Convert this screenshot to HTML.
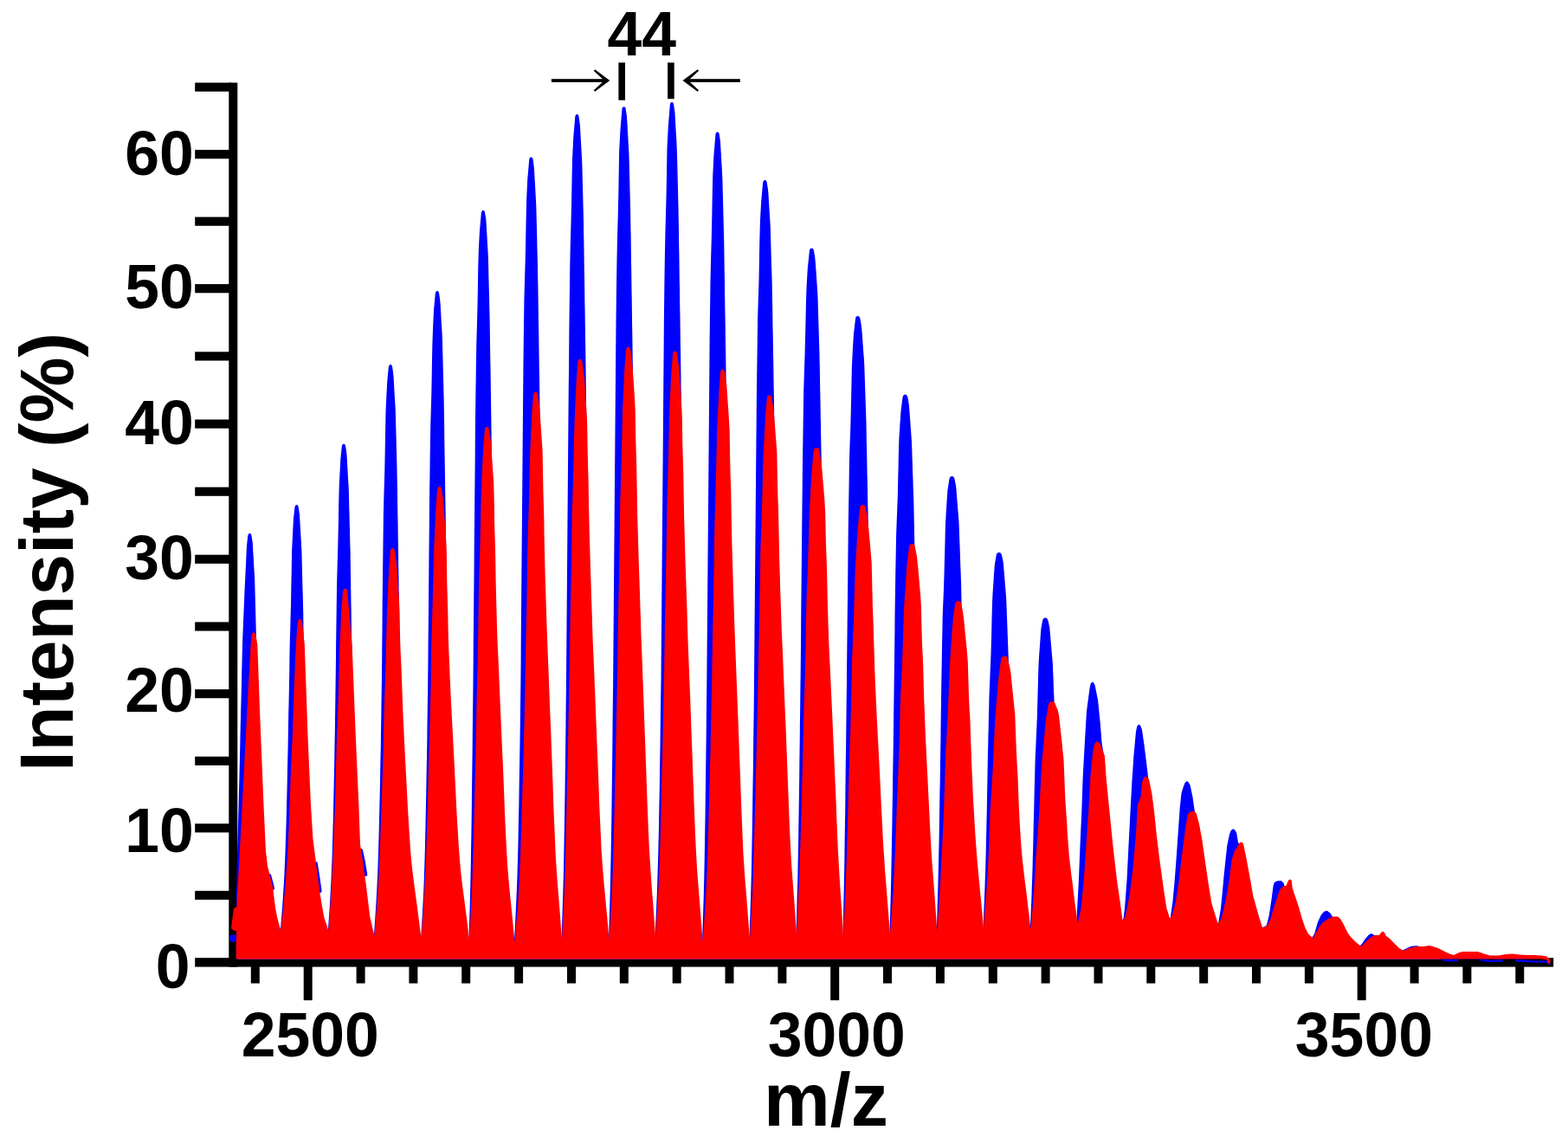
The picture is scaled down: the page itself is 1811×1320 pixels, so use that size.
<!DOCTYPE html>
<html lang="en">
<head>
<meta charset="utf-8">
<title>Mass spectrum</title>
<style>html,body{margin:0;padding:0;background:#fff}svg{display:block}</style>
</head>
<body>
<svg width="1811" height="1320" viewBox="0 0 1811 1320">
<rect width="1811" height="1320" fill="#fff"/>
<g fill="#000">
<rect x="264.3" y="95.5" width="10" height="1021.1"/>
<rect x="225.2" y="1106.2" width="1569.0" height="10.4"/>
<rect x="225.2" y="95.5" width="42" height="10.2"/>
<rect x="225.2" y="173.1" width="42" height="10.2"/>
<rect x="225.2" y="250.6" width="42" height="10.2"/>
<rect x="225.2" y="328.1" width="42" height="10.2"/>
<rect x="225.2" y="406.3" width="42" height="10.2"/>
<rect x="225.2" y="484.5" width="42" height="10.2"/>
<rect x="225.2" y="562.6" width="42" height="10.2"/>
<rect x="225.2" y="640.7" width="42" height="10.2"/>
<rect x="225.2" y="718.4" width="42" height="10.2"/>
<rect x="225.2" y="796.1" width="42" height="10.2"/>
<rect x="225.2" y="873.7" width="42" height="10.2"/>
<rect x="225.2" y="951.2" width="42" height="10.2"/>
<rect x="225.2" y="1028.8" width="42" height="10.2"/>
<rect x="289.8" y="1112" width="10" height="23.6"/>
<rect x="350.7" y="1112" width="10" height="43.2"/>
<rect x="411.6" y="1112" width="10" height="23.6"/>
<rect x="472.4" y="1112" width="10" height="23.6"/>
<rect x="533.2" y="1112" width="10" height="23.6"/>
<rect x="594.1" y="1112" width="10" height="23.6"/>
<rect x="655.0" y="1112" width="10" height="23.6"/>
<rect x="715.8" y="1112" width="10" height="23.6"/>
<rect x="776.7" y="1112" width="10" height="23.6"/>
<rect x="837.5" y="1112" width="10" height="23.6"/>
<rect x="898.4" y="1112" width="10" height="23.6"/>
<rect x="959.2" y="1112" width="10" height="43.2"/>
<rect x="1020.0" y="1112" width="10" height="23.6"/>
<rect x="1080.9" y="1112" width="10" height="23.6"/>
<rect x="1141.8" y="1112" width="10" height="23.6"/>
<rect x="1202.6" y="1112" width="10" height="23.6"/>
<rect x="1263.5" y="1112" width="10" height="23.6"/>
<rect x="1324.3" y="1112" width="10" height="23.6"/>
<rect x="1385.2" y="1112" width="10" height="23.6"/>
<rect x="1446.0" y="1112" width="10" height="23.6"/>
<rect x="1506.9" y="1112" width="10" height="23.6"/>
<rect x="1567.7" y="1112" width="10" height="43.2"/>
<rect x="1628.6" y="1112" width="10" height="23.6"/>
<rect x="1689.4" y="1112" width="10" height="23.6"/>
<rect x="1750.3" y="1112" width="10" height="23.6"/>
</g>
<path d="M272.7,1107.6 L272.7,1092.0 L272.7,1079.9 L272.7,1067.8 L272.7,1055.6 L272.8,1043.5 L273.0,1031.4 L273.3,1019.3 L273.5,1007.1 L273.7,995.0 L274.1,982.9 L274.4,970.8 L274.8,958.6 L275.1,946.5 L275.5,934.4 L275.8,922.3 L276.1,910.2 L276.4,898.0 L276.7,885.9 L277.0,873.8 L277.3,861.7 L277.5,849.5 L277.8,837.4 L278.1,825.3 L278.4,813.2 L278.7,801.0 L279.0,788.9 L279.2,776.8 L279.5,764.7 L279.8,752.6 L280.1,740.4 L280.6,728.3 L281.1,716.2 L281.6,704.1 L282.1,691.9 L282.6,679.8 L283.2,667.7 L283.8,655.6 L284.4,643.4 L284.9,631.3 L286.2,619.2 L286.6,617.4 L287.4,616.3 L288.4,616.0 L289.4,616.3 L290.2,617.4 L290.6,619.2 L291.2,623.0 L291.8,626.9 L292.0,630.7 L292.2,634.6 L292.4,638.4 L292.7,642.2 L292.9,646.1 L293.1,649.9 L293.3,653.7 L293.5,657.6 L293.8,661.4 L294.0,665.3 L294.2,669.1 L294.3,672.9 L294.4,676.8 L294.5,680.6 L294.6,684.5 L294.7,688.3 L294.8,692.1 L294.9,696.0 L295.0,699.8 L295.1,703.7 L295.2,707.5 L295.3,711.3 L295.4,715.2 L295.5,719.0 L295.6,722.8 L295.7,726.7 L295.8,730.5 L295.9,734.4 L296.0,738.2 L296.0,742.0 L296.1,745.9 L296.2,749.7 L296.2,753.6 L296.3,757.4 L296.3,761.2 L296.4,765.1 L296.4,768.9 L296.5,772.7 L296.6,776.6 L296.6,780.4 L296.7,784.3 L296.7,788.1 L296.8,791.9 L296.8,795.8 L296.9,799.6 L297.0,803.5 L297.0,807.3 L297.1,811.1 L297.1,815.0 L297.2,818.8 L297.3,822.6 L297.3,826.5 L297.4,830.3 L297.4,834.2 L297.5,838.0 L297.5,841.8 L297.6,845.7 L297.7,849.5 L297.7,853.4 L297.8,857.2 L297.8,861.0 L297.9,864.9 L297.9,868.7 L298.0,872.6 L298.1,876.4 L298.1,880.2 L298.2,884.1 L298.2,887.9 L298.3,891.7 L298.3,895.6 L298.4,899.4 L298.5,903.3 L298.5,907.1 L298.6,910.9 L298.6,914.8 L298.7,918.6 L298.7,922.5 L298.8,926.3 L298.8,930.1 L298.9,934.0 L298.9,937.8 L299.0,941.6 L299.0,945.5 L299.1,949.3 L299.1,953.2 L299.2,957.0 L299.2,960.8 L299.3,964.7 L299.3,968.5 L299.4,972.4 L299.4,976.2 L299.5,980.0 L299.5,983.9 L299.6,987.7 L299.6,991.5 L299.6,995.4 L299.7,999.2 L299.7,1003.1 L299.8,1006.9 L299.8,1010.7 L299.9,1014.6 L299.9,1018.4 L300.0,1022.3 L300.0,1026.1 L300.1,1029.9 L300.1,1033.8 L300.2,1037.6 L300.2,1041.5 L300.3,1045.3 L300.3,1049.1 L300.4,1053.0 L300.4,1056.8 L300.5,1060.6 L300.5,1064.5 L300.6,1068.3 L300.6,1072.2 L300.6,1076.0 L323.8,1076.0 L323.8,1076.0 L324.8,1063.4 L325.8,1050.9 L326.7,1038.3 L327.5,1025.8 L328.3,1013.2 L328.8,1000.6 L329.4,988.1 L329.8,975.5 L330.2,963.0 L330.6,950.4 L330.9,937.9 L331.2,925.3 L331.5,912.7 L331.8,900.2 L332.0,887.6 L332.3,875.1 L332.6,862.5 L332.8,849.9 L333.0,837.4 L333.2,824.8 L333.5,812.3 L333.8,799.7 L334.0,787.1 L334.3,774.6 L334.4,762.0 L334.6,749.5 L334.9,736.9 L335.3,724.3 L335.6,711.8 L336.0,699.2 L336.2,686.7 L336.4,674.1 L336.7,661.6 L336.9,649.0 L337.1,636.4 L337.7,623.9 L338.3,611.3 L339.0,598.8 L340.4,586.2 L340.8,584.4 L341.6,583.3 L342.6,583.0 L343.6,583.3 L344.4,584.4 L344.8,586.2 L345.4,590.3 L346.0,594.4 L346.2,598.5 L346.5,602.7 L346.7,606.8 L347.0,610.9 L347.2,615.0 L347.4,619.1 L347.7,623.2 L347.9,627.3 L348.1,631.4 L348.4,635.6 L348.5,639.7 L348.6,643.8 L348.7,647.9 L348.8,652.0 L348.9,656.1 L349.0,660.2 L349.1,664.3 L349.2,668.5 L349.3,672.6 L349.4,676.7 L349.5,680.8 L349.7,684.9 L349.8,689.0 L349.9,693.1 L350.0,697.2 L350.1,701.4 L350.2,705.5 L350.3,709.6 L350.3,713.7 L350.4,717.8 L350.4,721.9 L350.5,726.0 L350.6,730.1 L350.6,734.3 L350.7,738.4 L350.7,742.5 L350.8,746.6 L350.9,750.7 L350.9,754.8 L351.0,758.9 L351.1,763.0 L351.1,767.2 L351.2,771.3 L351.2,775.4 L351.3,779.5 L351.4,783.6 L351.4,787.7 L351.5,791.8 L351.5,795.9 L351.6,800.1 L351.7,804.2 L351.7,808.3 L351.8,812.4 L351.9,816.5 L351.9,820.6 L352.0,824.7 L352.0,828.8 L352.1,833.0 L352.2,837.1 L352.2,841.2 L352.3,845.3 L352.3,849.4 L352.4,853.5 L352.5,857.6 L352.5,861.7 L352.6,865.9 L352.7,870.0 L352.7,874.1 L352.8,878.2 L352.8,882.3 L352.9,886.4 L353.0,890.5 L353.0,894.6 L353.1,898.8 L353.1,902.9 L353.2,907.0 L353.2,911.1 L353.3,915.2 L353.3,919.3 L353.4,923.4 L353.4,927.5 L353.5,931.7 L353.5,935.8 L353.6,939.9 L353.6,944.0 L353.7,948.1 L353.7,952.2 L353.8,956.3 L353.8,960.4 L353.9,964.6 L353.9,968.7 L354.0,972.8 L354.0,976.9 L354.1,981.0 L354.1,985.1 L354.2,989.2 L354.2,993.3 L354.3,997.5 L354.3,1001.6 L354.4,1005.7 L354.4,1009.8 L354.5,1013.9 L354.5,1018.0 L354.6,1022.1 L354.6,1026.2 L354.7,1030.4 L354.7,1034.5 L354.8,1038.6 L354.8,1042.7 L354.9,1046.8 L354.9,1050.9 L355.0,1055.0 L355.0,1059.1 L355.1,1063.3 L355.2,1067.4 L355.2,1071.5 L355.3,1075.6 L378.8,1075.6 L378.8,1075.6 L379.8,1061.2 L380.8,1046.9 L381.6,1032.5 L382.4,1018.2 L383.0,1003.8 L383.6,989.5 L384.0,975.1 L384.4,960.8 L384.8,946.4 L385.1,932.1 L385.4,917.7 L385.7,903.4 L386.0,889.0 L386.3,874.6 L386.5,860.3 L386.8,845.9 L387.0,831.6 L387.2,817.2 L387.4,802.9 L387.6,788.5 L387.8,774.2 L388.0,759.8 L388.1,745.5 L388.3,731.1 L388.5,716.8 L388.7,702.4 L388.9,688.0 L389.1,673.7 L389.5,659.3 L389.9,645.0 L390.3,630.6 L390.6,616.3 L390.9,601.9 L391.1,587.6 L391.4,573.2 L391.8,558.9 L392.6,544.5 L393.3,530.2 L394.8,515.8 L395.2,514.0 L396.0,512.9 L397.0,512.6 L398.0,512.9 L398.8,514.0 L399.2,515.8 L399.9,520.6 L400.5,525.3 L400.8,530.1 L401.0,534.8 L401.3,539.6 L401.6,544.3 L401.8,549.1 L402.1,553.8 L402.4,558.6 L402.7,563.3 L402.9,568.1 L403.0,572.9 L403.1,577.6 L403.2,582.4 L403.3,587.1 L403.5,591.9 L403.6,596.6 L403.7,601.4 L403.8,606.1 L404.0,610.9 L404.1,615.6 L404.2,620.4 L404.3,625.2 L404.4,629.9 L404.6,634.7 L404.7,639.4 L404.7,644.2 L404.8,648.9 L404.9,653.7 L404.9,658.4 L405.0,663.2 L405.1,667.9 L405.2,672.7 L405.2,677.5 L405.3,682.2 L405.4,687.0 L405.4,691.7 L405.5,696.5 L405.6,701.2 L405.7,706.0 L405.7,710.7 L405.8,715.5 L405.9,720.2 L405.9,725.0 L406.0,729.8 L406.1,734.5 L406.2,739.3 L406.2,744.0 L406.3,748.8 L406.4,753.5 L406.4,758.3 L406.5,763.0 L406.6,767.8 L406.7,772.5 L406.7,777.3 L406.8,782.1 L406.9,786.8 L406.9,791.6 L407.0,796.3 L407.1,801.1 L407.2,805.8 L407.2,810.6 L407.3,815.3 L407.4,820.1 L407.4,824.9 L407.5,829.6 L407.5,834.4 L407.6,839.1 L407.6,843.9 L407.7,848.6 L407.8,853.4 L407.8,858.1 L407.9,862.9 L407.9,867.6 L408.0,872.4 L408.1,877.2 L408.1,881.9 L408.2,886.7 L408.2,891.4 L408.3,896.2 L408.4,900.9 L408.4,905.7 L408.5,910.4 L408.5,915.2 L408.6,919.9 L408.7,924.7 L408.7,929.5 L408.8,934.2 L408.8,939.0 L408.9,943.7 L408.9,948.5 L409.0,953.2 L409.1,958.0 L409.1,962.7 L409.2,967.5 L409.2,972.2 L409.3,977.0 L409.4,981.8 L409.4,986.5 L409.5,991.3 L409.5,996.0 L409.6,1000.8 L409.7,1005.5 L409.7,1010.3 L409.8,1015.0 L409.8,1019.8 L409.9,1024.5 L410.0,1029.3 L410.0,1034.1 L410.1,1038.8 L410.1,1043.6 L410.2,1048.3 L410.2,1053.1 L410.3,1057.8 L410.4,1062.6 L410.4,1067.3 L410.5,1072.1 L410.5,1076.8 L410.6,1081.6 L431.8,1081.6 L431.8,1081.6 L433.0,1064.7 L434.1,1047.9 L435.1,1031.0 L435.9,1014.2 L436.6,997.3 L437.1,980.5 L437.6,963.6 L438.0,946.7 L438.4,929.9 L438.8,913.0 L439.1,896.2 L439.4,879.3 L439.8,862.5 L440.0,845.6 L440.3,828.8 L440.5,811.9 L440.8,795.0 L441.0,778.2 L441.2,761.3 L441.3,744.5 L441.5,727.6 L441.6,710.8 L441.7,693.9 L441.9,677.0 L442.1,660.2 L442.3,643.3 L442.5,626.5 L442.7,609.6 L442.9,592.8 L443.3,575.9 L443.8,559.1 L444.3,542.2 L444.6,525.3 L444.9,508.5 L445.2,491.6 L445.5,474.8 L446.3,457.9 L447.2,441.1 L448.8,424.2 L449.2,422.4 L450.0,421.3 L451.0,421.0 L452.0,421.3 L452.8,422.4 L453.2,424.2 L454.0,429.8 L454.6,435.3 L454.9,440.9 L455.2,446.4 L455.5,452.0 L455.8,457.5 L456.2,463.1 L456.5,468.7 L456.8,474.2 L456.9,479.8 L457.1,485.3 L457.2,490.9 L457.4,496.5 L457.5,502.0 L457.7,507.6 L457.8,513.1 L457.9,518.7 L458.1,524.2 L458.2,529.8 L458.4,535.4 L458.5,540.9 L458.6,546.5 L458.7,552.0 L458.8,557.6 L458.9,563.1 L459.0,568.7 L459.1,574.3 L459.1,579.8 L459.2,585.4 L459.3,590.9 L459.4,596.5 L459.5,602.1 L459.6,607.6 L459.6,613.2 L459.7,618.7 L459.8,624.3 L459.9,629.8 L460.0,635.4 L460.1,641.0 L460.1,646.5 L460.2,652.1 L460.3,657.6 L460.4,663.2 L460.5,668.8 L460.6,674.3 L460.6,679.9 L460.7,685.4 L460.8,691.0 L460.9,696.5 L461.0,702.1 L461.1,707.7 L461.1,713.2 L461.2,718.8 L461.3,724.3 L461.4,729.9 L461.4,735.4 L461.5,741.0 L461.6,746.6 L461.6,752.1 L461.7,757.7 L461.8,763.2 L461.9,768.8 L461.9,774.4 L462.0,779.9 L462.1,785.5 L462.1,791.0 L462.2,796.6 L462.3,802.1 L462.3,807.7 L462.4,813.3 L462.5,818.8 L462.5,824.4 L462.6,829.9 L462.7,835.5 L462.8,841.0 L462.8,846.6 L462.9,852.2 L463.0,857.7 L463.0,863.3 L463.1,868.8 L463.2,874.4 L463.2,880.0 L463.3,885.5 L463.4,891.1 L463.4,896.6 L463.5,902.2 L463.6,907.7 L463.7,913.3 L463.7,918.9 L463.8,924.4 L463.9,930.0 L463.9,935.5 L464.0,941.1 L464.1,946.7 L464.1,952.2 L464.2,957.8 L464.3,963.3 L464.3,968.9 L464.4,974.4 L464.5,980.0 L464.5,985.6 L464.6,991.1 L464.7,996.7 L464.8,1002.2 L464.8,1007.8 L464.9,1013.3 L465.0,1018.9 L465.0,1024.5 L465.1,1030.0 L465.2,1035.6 L465.2,1041.1 L465.3,1046.7 L465.4,1052.3 L465.4,1057.8 L465.5,1063.4 L465.6,1068.9 L465.7,1074.5 L465.7,1080.0 L465.8,1085.6 L486.0,1085.6 L486.0,1085.6 L487.2,1066.5 L488.3,1047.3 L489.3,1028.2 L490.0,1009.0 L490.6,989.9 L491.1,970.8 L491.5,951.6 L491.9,932.5 L492.3,913.4 L492.6,894.2 L493.0,875.1 L493.3,855.9 L493.5,836.8 L493.8,817.7 L494.1,798.5 L494.3,779.4 L494.5,760.2 L494.6,741.1 L494.8,722.0 L495.0,702.8 L495.1,683.7 L495.3,664.6 L495.4,645.4 L495.6,626.3 L495.8,607.1 L495.9,588.0 L496.1,568.9 L496.4,549.7 L496.6,530.6 L496.9,511.4 L497.2,492.3 L497.8,473.2 L498.3,454.0 L498.7,434.9 L499.0,415.8 L499.4,396.6 L500.1,377.5 L501.0,358.3 L502.8,339.2 L503.2,337.4 L504.0,336.3 L505.0,336.0 L506.0,336.3 L506.8,337.4 L507.2,339.2 L508.1,345.5 L508.7,351.8 L509.0,358.0 L509.4,364.3 L509.7,370.6 L510.1,376.9 L510.5,383.2 L510.8,389.4 L511.0,395.7 L511.1,402.0 L511.3,408.3 L511.5,414.5 L511.6,420.8 L511.8,427.1 L511.9,433.4 L512.1,439.7 L512.3,445.9 L512.4,452.2 L512.6,458.5 L512.7,464.8 L512.8,471.1 L512.9,477.3 L513.0,483.6 L513.1,489.9 L513.2,496.2 L513.2,502.5 L513.3,508.7 L513.4,515.0 L513.5,521.3 L513.6,527.6 L513.7,533.8 L513.8,540.1 L513.9,546.4 L514.0,552.7 L514.1,559.0 L514.2,565.2 L514.3,571.5 L514.4,577.8 L514.5,584.1 L514.6,590.4 L514.7,596.6 L514.8,602.9 L514.8,609.2 L514.9,615.5 L515.0,621.8 L515.1,628.0 L515.2,634.3 L515.3,640.6 L515.4,646.9 L515.5,653.1 L515.6,659.4 L515.6,665.7 L515.7,672.0 L515.8,678.3 L515.9,684.5 L515.9,690.8 L516.0,697.1 L516.1,703.4 L516.2,709.7 L516.3,715.9 L516.3,722.2 L516.4,728.5 L516.5,734.8 L516.6,741.1 L516.6,747.3 L516.7,753.6 L516.8,759.9 L516.9,766.2 L517.0,772.5 L517.0,778.7 L517.1,785.0 L517.2,791.3 L517.3,797.6 L517.3,803.8 L517.4,810.1 L517.5,816.4 L517.6,822.7 L517.7,829.0 L517.7,835.2 L517.8,841.5 L517.9,847.8 L518.0,854.1 L518.0,860.4 L518.1,866.6 L518.2,872.9 L518.3,879.2 L518.4,885.5 L518.4,891.8 L518.5,898.0 L518.6,904.3 L518.7,910.6 L518.8,916.9 L518.8,923.1 L518.9,929.4 L519.0,935.7 L519.1,942.0 L519.1,948.3 L519.2,954.5 L519.3,960.8 L519.4,967.1 L519.5,973.4 L519.5,979.7 L519.6,985.9 L519.7,992.2 L519.8,998.5 L519.8,1004.8 L519.9,1011.1 L520.0,1017.3 L520.1,1023.6 L520.2,1029.9 L520.2,1036.2 L520.3,1042.4 L520.4,1048.7 L520.5,1055.0 L520.5,1061.3 L520.6,1067.6 L520.7,1073.8 L520.8,1080.1 L520.9,1086.4 L541.4,1086.4 L541.4,1086.4 L542.1,1064.9 L542.8,1043.3 L543.3,1021.8 L543.8,1000.2 L544.1,978.7 L544.5,957.1 L544.8,935.6 L545.0,914.1 L545.3,892.5 L545.6,871.0 L545.8,849.4 L546.0,827.9 L546.3,806.3 L546.5,784.8 L546.7,763.2 L546.8,741.7 L547.0,720.2 L547.2,698.6 L547.4,677.1 L547.6,655.5 L547.7,634.0 L547.9,612.4 L548.1,590.9 L548.3,569.4 L548.5,547.8 L548.7,526.3 L548.8,504.7 L549.0,483.2 L549.3,461.6 L549.6,440.1 L549.9,418.5 L550.3,397.0 L550.9,375.5 L551.5,353.9 L551.9,332.4 L552.2,310.8 L552.8,289.3 L553.9,267.7 L555.8,246.2 L556.2,244.4 L557.0,243.3 L558.0,243.0 L559.0,243.3 L559.8,244.4 L560.2,246.2 L561.3,253.3 L561.8,260.4 L562.2,267.4 L562.6,274.5 L563.0,281.6 L563.4,288.7 L563.8,295.8 L564.0,302.9 L564.2,309.9 L564.3,317.0 L564.5,324.1 L564.7,331.2 L564.9,338.3 L565.1,345.4 L565.2,352.4 L565.4,359.5 L565.6,366.6 L565.7,373.7 L565.8,380.8 L565.9,387.8 L566.0,394.9 L566.1,402.0 L566.2,409.1 L566.3,416.2 L566.5,423.3 L566.6,430.3 L566.7,437.4 L566.8,444.5 L566.9,451.6 L567.0,458.7 L567.1,465.8 L567.2,472.8 L567.3,479.9 L567.4,487.0 L567.5,494.1 L567.6,501.2 L567.7,508.2 L567.8,515.3 L567.9,522.4 L568.0,529.5 L568.2,536.6 L568.3,543.7 L568.4,550.7 L568.4,557.8 L568.5,564.9 L568.6,572.0 L568.7,579.1 L568.8,586.2 L568.9,593.2 L569.0,600.3 L569.1,607.4 L569.1,614.5 L569.2,621.6 L569.3,628.6 L569.4,635.7 L569.5,642.8 L569.6,649.9 L569.7,657.0 L569.8,664.1 L569.9,671.1 L569.9,678.2 L570.0,685.3 L570.1,692.4 L570.2,699.5 L570.3,706.6 L570.4,713.6 L570.5,720.7 L570.6,727.8 L570.6,734.9 L570.7,742.0 L570.8,749.0 L570.9,756.1 L571.0,763.2 L571.1,770.3 L571.2,777.4 L571.3,784.5 L571.3,791.5 L571.4,798.6 L571.5,805.7 L571.6,812.8 L571.7,819.9 L571.8,827.0 L571.9,834.0 L572.0,841.1 L572.1,848.2 L572.1,855.3 L572.2,862.4 L572.3,869.4 L572.4,876.5 L572.5,883.6 L572.6,890.7 L572.7,897.8 L572.8,904.9 L572.8,911.9 L572.9,919.0 L573.0,926.1 L573.1,933.2 L573.2,940.3 L573.3,947.4 L573.4,954.4 L573.5,961.5 L573.5,968.6 L573.6,975.7 L573.7,982.8 L573.8,989.8 L573.9,996.9 L574.0,1004.0 L574.1,1011.1 L574.2,1018.2 L574.3,1025.3 L574.3,1032.3 L574.4,1039.4 L574.5,1046.5 L574.6,1053.6 L574.7,1060.7 L574.8,1067.8 L574.9,1074.8 L575.0,1081.9 L575.0,1089.0 L593.8,1089.0 L593.8,1089.0 L595.1,1065.8 L596.2,1042.6 L597.2,1019.4 L597.9,996.2 L598.5,973.1 L598.9,949.9 L599.4,926.7 L599.7,903.5 L600.1,880.3 L600.5,857.1 L600.8,833.9 L601.1,810.7 L601.4,787.5 L601.6,764.3 L601.7,741.2 L601.9,718.0 L602.1,694.8 L602.3,671.6 L602.5,648.4 L602.7,625.2 L602.9,602.0 L603.1,578.8 L603.3,555.6 L603.5,532.4 L603.7,509.3 L603.9,486.1 L604.1,462.9 L604.3,439.7 L604.5,416.5 L604.8,393.3 L605.1,370.1 L605.4,346.9 L606.0,323.7 L606.7,300.5 L607.2,277.4 L607.6,254.2 L608.1,231.0 L609.2,207.8 L611.2,184.6 L611.6,182.8 L612.4,181.7 L613.4,181.4 L614.4,181.7 L615.2,182.8 L615.6,184.6 L616.7,192.2 L617.2,199.8 L617.6,207.3 L618.1,214.9 L618.5,222.5 L618.9,230.1 L619.3,237.6 L619.5,245.2 L619.7,252.8 L619.9,260.4 L620.1,268.0 L620.3,275.5 L620.4,283.1 L620.6,290.7 L620.8,298.3 L621.0,305.9 L621.1,313.4 L621.2,321.0 L621.4,328.6 L621.5,336.2 L621.6,343.7 L621.7,351.3 L621.8,358.9 L621.9,366.5 L622.0,374.1 L622.2,381.6 L622.3,389.2 L622.4,396.8 L622.5,404.4 L622.6,411.9 L622.7,419.5 L622.8,427.1 L623.0,434.7 L623.1,442.3 L623.2,449.8 L623.3,457.4 L623.4,465.0 L623.5,472.6 L623.6,480.1 L623.7,487.7 L623.8,495.3 L623.9,502.9 L624.0,510.5 L624.1,518.0 L624.2,525.6 L624.3,533.2 L624.4,540.8 L624.5,548.4 L624.6,555.9 L624.7,563.5 L624.8,571.1 L624.9,578.7 L625.0,586.2 L625.1,593.8 L625.2,601.4 L625.2,609.0 L625.3,616.6 L625.4,624.1 L625.5,631.7 L625.6,639.3 L625.7,646.9 L625.8,654.4 L625.9,662.0 L626.0,669.6 L626.1,677.2 L626.2,684.8 L626.3,692.3 L626.4,699.9 L626.5,707.5 L626.6,715.1 L626.7,722.6 L626.8,730.2 L626.8,737.8 L626.9,745.4 L627.0,753.0 L627.1,760.5 L627.2,768.1 L627.3,775.7 L627.4,783.3 L627.5,790.9 L627.6,798.4 L627.7,806.0 L627.8,813.6 L627.9,821.2 L628.0,828.7 L628.1,836.3 L628.2,843.9 L628.3,851.5 L628.4,859.1 L628.4,866.6 L628.5,874.2 L628.6,881.8 L628.7,889.4 L628.8,896.9 L628.9,904.5 L629.0,912.1 L629.1,919.7 L629.2,927.3 L629.3,934.8 L629.4,942.4 L629.5,950.0 L629.6,957.6 L629.7,965.1 L629.8,972.7 L629.9,980.3 L630.0,987.9 L630.0,995.5 L630.1,1003.0 L630.2,1010.6 L630.3,1018.2 L630.4,1025.8 L630.5,1033.4 L630.6,1040.9 L630.7,1048.5 L630.8,1056.1 L630.9,1063.7 L631.0,1071.2 L631.1,1078.8 L631.2,1086.4 L648.4,1086.4 L648.4,1086.4 L649.3,1062.0 L650.1,1037.6 L650.8,1013.2 L651.3,988.8 L651.7,964.5 L652.1,940.1 L652.5,915.7 L652.8,891.3 L653.1,866.9 L653.4,842.5 L653.6,818.1 L653.9,793.7 L654.1,769.3 L654.3,744.9 L654.5,720.6 L654.7,696.2 L654.9,671.8 L655.1,647.4 L655.3,623.0 L655.5,598.6 L655.7,574.2 L655.9,549.8 L656.1,525.4 L656.3,501.0 L656.5,476.7 L656.7,452.3 L657.0,427.9 L657.2,403.5 L657.4,379.1 L657.7,354.7 L658.0,330.3 L658.3,305.9 L658.8,281.5 L659.5,257.1 L660.1,232.8 L660.5,208.4 L661.0,184.0 L662.2,159.6 L664.2,135.2 L664.6,133.4 L665.4,132.3 L666.4,132.0 L667.4,132.3 L668.2,133.4 L668.6,135.2 L669.8,143.2 L670.3,151.2 L670.7,159.2 L671.2,167.2 L671.6,175.2 L672.1,183.2 L672.4,191.2 L672.6,199.1 L672.8,207.1 L673.0,215.1 L673.2,223.1 L673.4,231.1 L673.6,239.1 L673.8,247.1 L674.0,255.1 L674.1,263.1 L674.2,271.1 L674.4,279.1 L674.5,287.1 L674.6,295.1 L674.7,303.1 L674.8,311.1 L675.0,319.0 L675.1,327.0 L675.2,335.0 L675.3,343.0 L675.4,351.0 L675.6,359.0 L675.7,367.0 L675.8,375.0 L675.9,383.0 L676.0,391.0 L676.2,399.0 L676.3,407.0 L676.4,415.0 L676.5,423.0 L676.6,431.0 L676.7,438.9 L676.8,446.9 L676.9,454.9 L677.0,462.9 L677.1,470.9 L677.2,478.9 L677.3,486.9 L677.4,494.9 L677.5,502.9 L677.6,510.9 L677.7,518.9 L677.8,526.9 L677.9,534.9 L678.0,542.9 L678.1,550.9 L678.2,558.8 L678.3,566.8 L678.4,574.8 L678.5,582.8 L678.6,590.8 L678.7,598.8 L678.8,606.8 L678.9,614.8 L679.0,622.8 L679.1,630.8 L679.2,638.8 L679.3,646.8 L679.4,654.8 L679.5,662.8 L679.6,670.7 L679.7,678.7 L679.8,686.7 L679.9,694.7 L680.0,702.7 L680.1,710.7 L680.2,718.7 L680.3,726.7 L680.4,734.7 L680.5,742.7 L680.6,750.7 L680.7,758.7 L680.8,766.7 L680.9,774.7 L681.0,782.7 L681.1,790.6 L681.2,798.6 L681.3,806.6 L681.4,814.6 L681.5,822.6 L681.6,830.6 L681.7,838.6 L681.8,846.6 L681.9,854.6 L682.0,862.6 L682.1,870.6 L682.2,878.6 L682.3,886.6 L682.4,894.6 L682.5,902.6 L682.6,910.5 L682.7,918.5 L682.8,926.5 L682.9,934.5 L683.0,942.5 L683.1,950.5 L683.2,958.5 L683.3,966.5 L683.4,974.5 L683.5,982.5 L683.6,990.5 L683.7,998.5 L683.8,1006.5 L683.9,1014.5 L684.0,1022.5 L684.1,1030.4 L684.2,1038.4 L684.3,1046.4 L684.4,1054.4 L684.5,1062.4 L684.6,1070.4 L684.7,1078.4 L684.8,1086.4 L703.0,1086.4 L703.0,1086.4 L703.8,1061.8 L704.5,1037.2 L705.1,1012.6 L705.6,987.9 L706.0,963.3 L706.4,938.7 L706.7,914.1 L707.0,889.5 L707.3,864.9 L707.5,840.2 L707.8,815.6 L708.1,791.0 L708.3,766.4 L708.5,741.8 L708.7,717.2 L708.9,692.6 L709.1,667.9 L709.3,643.3 L709.5,618.7 L709.7,594.1 L709.9,569.5 L710.1,544.9 L710.3,520.2 L710.5,495.6 L710.7,471.0 L710.9,446.4 L711.1,421.8 L711.3,397.2 L711.5,372.6 L711.8,347.9 L712.1,323.3 L712.5,298.7 L713.0,274.1 L713.7,249.5 L714.3,224.9 L714.7,200.2 L715.1,175.6 L716.4,151.0 L718.4,126.4 L718.8,124.6 L719.6,123.5 L720.6,123.2 L721.6,123.5 L722.4,124.6 L722.8,126.4 L724.0,134.4 L724.5,142.5 L724.9,150.5 L725.4,158.5 L725.8,166.6 L726.3,174.6 L726.6,182.6 L726.8,190.6 L727.0,198.7 L727.2,206.7 L727.4,214.7 L727.6,222.8 L727.8,230.8 L728.0,238.8 L728.2,246.9 L728.3,254.9 L728.4,262.9 L728.6,270.9 L728.7,279.0 L728.8,287.0 L728.9,295.0 L729.0,303.1 L729.2,311.1 L729.3,319.1 L729.4,327.2 L729.5,335.2 L729.7,343.2 L729.8,351.2 L729.9,359.3 L730.0,367.3 L730.1,375.3 L730.3,383.4 L730.4,391.4 L730.5,399.4 L730.6,407.5 L730.7,415.5 L730.9,423.5 L731.0,431.5 L731.1,439.6 L731.2,447.6 L731.3,455.6 L731.4,463.7 L731.5,471.7 L731.6,479.7 L731.7,487.8 L731.8,495.8 L731.9,503.8 L732.0,511.9 L732.1,519.9 L732.2,527.9 L732.3,535.9 L732.4,544.0 L732.5,552.0 L732.6,560.0 L732.7,568.1 L732.8,576.1 L732.9,584.1 L733.0,592.2 L733.1,600.2 L733.2,608.2 L733.3,616.2 L733.4,624.3 L733.5,632.3 L733.6,640.3 L733.7,648.4 L733.8,656.4 L733.9,664.4 L734.0,672.5 L734.1,680.5 L734.2,688.5 L734.3,696.5 L734.4,704.6 L734.5,712.6 L734.6,720.6 L734.7,728.7 L734.8,736.7 L734.9,744.7 L735.0,752.8 L735.1,760.8 L735.2,768.8 L735.3,776.9 L735.4,784.9 L735.5,792.9 L735.6,800.9 L735.7,809.0 L735.8,817.0 L735.9,825.0 L736.0,833.1 L736.1,841.1 L736.2,849.1 L736.3,857.2 L736.4,865.2 L736.5,873.2 L736.6,881.2 L736.7,889.3 L736.8,897.3 L736.9,905.3 L737.0,913.4 L737.1,921.4 L737.2,929.4 L737.3,937.5 L737.4,945.5 L737.5,953.5 L737.6,961.5 L737.7,969.6 L737.8,977.6 L737.9,985.6 L738.0,993.7 L738.1,1001.7 L738.1,1009.7 L738.2,1017.8 L738.3,1025.8 L738.4,1033.8 L738.5,1041.8 L738.6,1049.9 L738.7,1057.9 L738.8,1065.9 L738.9,1074.0 L739.0,1082.0 L756.4,1082.0 L756.4,1082.0 L757.7,1057.4 L758.8,1032.7 L759.6,1008.1 L760.3,983.5 L760.9,958.8 L761.3,934.2 L761.8,909.5 L762.1,884.9 L762.5,860.3 L762.8,835.6 L763.1,811.0 L763.5,786.4 L763.7,761.7 L763.9,737.1 L764.1,712.5 L764.3,687.8 L764.5,663.2 L764.7,638.6 L764.9,613.9 L765.1,589.3 L765.3,564.6 L765.5,540.0 L765.7,515.4 L765.9,490.7 L766.1,466.1 L766.3,441.5 L766.5,416.8 L766.7,392.2 L766.9,367.6 L767.2,342.9 L767.5,318.3 L767.9,293.7 L768.4,269.0 L769.1,244.4 L769.7,219.7 L770.1,195.1 L770.5,170.5 L771.8,145.8 L773.8,121.2 L774.2,119.4 L775.0,118.3 L776.0,118.0 L777.0,118.3 L777.8,119.4 L778.2,121.2 L779.4,129.3 L779.9,137.4 L780.3,145.6 L780.8,153.7 L781.3,161.8 L781.7,169.9 L782.0,178.1 L782.2,186.2 L782.4,194.3 L782.6,202.4 L782.8,210.6 L783.0,218.7 L783.2,226.8 L783.4,234.9 L783.6,243.1 L783.7,251.2 L783.9,259.3 L784.0,267.4 L784.1,275.6 L784.2,283.7 L784.4,291.8 L784.5,299.9 L784.6,308.1 L784.7,316.2 L784.8,324.3 L785.0,332.4 L785.1,340.6 L785.2,348.7 L785.3,356.8 L785.5,364.9 L785.6,373.1 L785.7,381.2 L785.8,389.3 L785.9,397.4 L786.1,405.6 L786.2,413.7 L786.3,421.8 L786.4,429.9 L786.5,438.1 L786.6,446.2 L786.7,454.3 L786.8,462.4 L786.9,470.5 L787.0,478.7 L787.1,486.8 L787.2,494.9 L787.3,503.0 L787.4,511.2 L787.5,519.3 L787.6,527.4 L787.7,535.5 L787.8,543.7 L787.9,551.8 L788.0,559.9 L788.1,568.0 L788.2,576.2 L788.3,584.3 L788.4,592.4 L788.5,600.5 L788.6,608.7 L788.7,616.8 L788.8,624.9 L788.9,633.0 L789.0,641.2 L789.1,649.3 L789.2,657.4 L789.3,665.5 L789.4,673.7 L789.5,681.8 L789.6,689.9 L789.7,698.0 L789.8,706.2 L789.9,714.3 L790.0,722.4 L790.1,730.5 L790.2,738.7 L790.3,746.8 L790.4,754.9 L790.5,763.0 L790.6,771.1 L790.8,779.3 L790.9,787.4 L791.0,795.5 L791.1,803.6 L791.2,811.8 L791.3,819.9 L791.4,828.0 L791.5,836.1 L791.6,844.3 L791.7,852.4 L791.8,860.5 L791.9,868.6 L792.0,876.8 L792.1,884.9 L792.2,893.0 L792.3,901.1 L792.4,909.3 L792.5,917.4 L792.6,925.5 L792.7,933.6 L792.8,941.8 L792.9,949.9 L793.0,958.0 L793.1,966.1 L793.2,974.3 L793.3,982.4 L793.4,990.5 L793.5,998.6 L793.6,1006.8 L793.7,1014.9 L793.8,1023.0 L793.9,1031.1 L794.0,1039.3 L794.1,1047.4 L794.2,1055.5 L794.3,1063.6 L794.4,1071.8 L794.5,1079.9 L794.6,1088.0 L811.0,1088.0 L811.0,1088.0 L811.8,1064.1 L812.6,1040.2 L813.2,1016.3 L813.7,992.4 L814.1,968.5 L814.5,944.6 L814.8,920.6 L815.1,896.7 L815.4,872.8 L815.7,848.9 L815.9,825.0 L816.2,801.1 L816.4,777.2 L816.6,753.3 L816.8,729.4 L817.0,705.5 L817.2,681.6 L817.4,657.7 L817.6,633.8 L817.8,609.8 L818.0,585.9 L818.2,562.0 L818.4,538.1 L818.6,514.2 L818.8,490.3 L819.0,466.4 L819.2,442.5 L819.4,418.6 L819.6,394.7 L819.9,370.8 L820.2,346.9 L820.5,323.0 L821.1,299.0 L821.8,275.1 L822.3,251.2 L822.7,227.3 L823.2,203.4 L824.4,179.5 L826.4,155.6 L826.8,153.8 L827.6,152.7 L828.6,152.4 L829.6,152.7 L830.4,153.8 L830.8,155.6 L832.0,163.4 L832.4,171.2 L832.9,179.1 L833.3,186.9 L833.8,194.7 L834.2,202.5 L834.5,210.3 L834.7,218.1 L834.9,226.0 L835.1,233.8 L835.3,241.6 L835.5,249.4 L835.7,257.2 L835.9,265.1 L836.1,272.9 L836.3,280.7 L836.4,288.5 L836.5,296.3 L836.6,304.2 L836.7,312.0 L836.9,319.8 L837.0,327.6 L837.1,335.4 L837.2,343.2 L837.3,351.1 L837.4,358.9 L837.6,366.7 L837.7,374.5 L837.8,382.3 L837.9,390.2 L838.0,398.0 L838.2,405.8 L838.3,413.6 L838.4,421.4 L838.5,429.2 L838.6,437.1 L838.7,444.9 L838.9,452.7 L839.0,460.5 L839.1,468.3 L839.2,476.2 L839.3,484.0 L839.3,491.8 L839.4,499.6 L839.5,507.4 L839.6,515.3 L839.7,523.1 L839.8,530.9 L839.9,538.7 L840.0,546.5 L840.1,554.3 L840.2,562.2 L840.3,570.0 L840.4,577.8 L840.5,585.6 L840.6,593.4 L840.7,601.3 L840.8,609.1 L840.9,616.9 L841.0,624.7 L841.1,632.5 L841.2,640.3 L841.3,648.2 L841.4,656.0 L841.5,663.8 L841.6,671.6 L841.7,679.4 L841.8,687.3 L841.9,695.1 L842.0,702.9 L842.1,710.7 L842.2,718.5 L842.3,726.3 L842.4,734.2 L842.5,742.0 L842.6,749.8 L842.7,757.6 L842.8,765.4 L842.8,773.3 L842.9,781.1 L843.0,788.9 L843.1,796.7 L843.2,804.5 L843.3,812.4 L843.4,820.2 L843.5,828.0 L843.6,835.8 L843.7,843.6 L843.8,851.4 L843.9,859.3 L844.0,867.1 L844.1,874.9 L844.2,882.7 L844.3,890.5 L844.4,898.4 L844.5,906.2 L844.6,914.0 L844.7,921.8 L844.8,929.6 L844.9,937.4 L845.0,945.3 L845.1,953.1 L845.2,960.9 L845.3,968.7 L845.4,976.5 L845.5,984.4 L845.6,992.2 L845.7,1000.0 L845.8,1007.8 L845.9,1015.6 L846.0,1023.5 L846.1,1031.3 L846.2,1039.1 L846.2,1046.9 L846.3,1054.7 L846.4,1062.5 L846.5,1070.4 L846.6,1078.2 L846.7,1086.0 L865.4,1086.0 L865.4,1086.0 L866.2,1063.6 L867.0,1041.1 L867.6,1018.7 L868.1,996.3 L868.5,973.8 L868.9,951.4 L869.2,929.0 L869.5,906.6 L869.9,884.1 L870.1,861.7 L870.4,839.3 L870.7,816.8 L870.9,794.4 L871.1,772.0 L871.3,749.5 L871.5,727.1 L871.7,704.7 L871.9,682.2 L872.1,659.8 L872.3,637.4 L872.5,615.0 L872.7,592.5 L872.9,570.1 L873.1,547.7 L873.3,525.2 L873.5,502.8 L873.7,480.4 L873.9,457.9 L874.2,435.5 L874.5,413.1 L874.8,390.6 L875.1,368.2 L875.8,345.8 L876.5,323.4 L876.9,300.9 L877.3,278.5 L877.9,256.1 L879.1,233.6 L881.1,211.2 L881.5,209.4 L882.4,208.3 L883.4,208.0 L884.5,208.3 L885.4,209.4 L885.8,211.2 L887.0,218.5 L887.6,225.8 L888.0,233.1 L888.5,240.4 L888.9,247.7 L889.4,255.0 L889.8,262.3 L890.0,269.6 L890.2,276.9 L890.4,284.2 L890.6,291.5 L890.8,298.8 L891.0,306.1 L891.3,313.4 L891.5,320.7 L891.7,328.0 L891.8,335.3 L891.9,342.6 L892.1,349.9 L892.2,357.1 L892.3,364.4 L892.4,371.7 L892.5,379.0 L892.7,386.3 L892.8,393.6 L892.9,400.9 L893.0,408.2 L893.2,415.5 L893.3,422.8 L893.4,430.1 L893.5,437.4 L893.6,444.7 L893.8,452.0 L893.9,459.3 L894.0,466.6 L894.1,473.9 L894.2,481.2 L894.4,488.5 L894.5,495.8 L894.6,503.1 L894.7,510.4 L894.8,517.7 L894.9,525.0 L895.0,532.3 L895.1,539.6 L895.2,546.9 L895.3,554.2 L895.4,561.5 L895.5,568.8 L895.6,576.1 L895.7,583.4 L895.8,590.7 L895.9,598.0 L896.0,605.3 L896.1,612.6 L896.2,619.9 L896.3,627.2 L896.4,634.5 L896.5,641.8 L896.6,649.0 L896.7,656.3 L896.8,663.6 L896.9,670.9 L897.0,678.2 L897.1,685.5 L897.2,692.8 L897.3,700.1 L897.4,707.4 L897.5,714.7 L897.6,722.0 L897.7,729.3 L897.8,736.6 L897.9,743.9 L898.0,751.2 L898.1,758.5 L898.2,765.8 L898.3,773.1 L898.4,780.4 L898.5,787.7 L898.6,795.0 L898.7,802.3 L898.8,809.6 L898.9,816.9 L899.0,824.2 L899.1,831.5 L899.2,838.8 L899.3,846.1 L899.4,853.4 L899.5,860.7 L899.6,868.0 L899.7,875.3 L899.8,882.6 L899.9,889.9 L900.0,897.2 L900.1,904.5 L900.2,911.8 L900.3,919.1 L900.4,926.4 L900.5,933.7 L900.6,940.9 L900.7,948.2 L900.8,955.5 L900.9,962.8 L901.0,970.1 L901.1,977.4 L901.2,984.7 L901.3,992.0 L901.4,999.3 L901.5,1006.6 L901.6,1013.9 L901.7,1021.2 L901.8,1028.5 L901.9,1035.8 L902.0,1043.1 L902.1,1050.4 L902.2,1057.7 L902.3,1065.0 L902.4,1072.3 L902.5,1079.6 L919.4,1079.6 L919.4,1079.6 L920.1,1059.3 L920.6,1039.1 L921.2,1018.8 L921.6,998.6 L922.0,978.3 L922.3,958.1 L922.6,937.8 L922.9,917.6 L923.2,897.3 L923.4,877.1 L923.7,856.8 L923.9,836.6 L924.2,816.3 L924.4,796.1 L924.7,775.8 L924.9,755.6 L925.1,735.3 L925.2,715.1 L925.4,694.8 L925.6,674.6 L925.8,654.3 L926.0,634.1 L926.2,613.8 L926.4,593.6 L926.6,573.3 L926.8,553.1 L927.0,532.8 L927.3,512.6 L927.6,492.3 L927.9,472.1 L928.2,451.8 L928.8,431.6 L929.5,411.3 L930.0,391.1 L930.5,370.8 L930.9,350.6 L931.6,330.3 L932.8,310.1 L934.9,289.8 L935.3,288.0 L936.3,286.9 L937.4,286.6 L938.6,286.9 L939.6,288.0 L940.0,289.8 L941.2,296.5 L941.8,303.1 L942.3,309.8 L942.8,316.4 L943.2,323.1 L943.7,329.7 L944.1,336.4 L944.5,343.1 L944.7,349.7 L944.9,356.4 L945.1,363.0 L945.3,369.7 L945.5,376.3 L945.7,383.0 L945.9,389.7 L946.1,396.3 L946.3,403.0 L946.5,409.6 L946.6,416.3 L946.8,422.9 L946.9,429.6 L947.0,436.3 L947.1,442.9 L947.2,449.6 L947.4,456.2 L947.5,462.9 L947.6,469.5 L947.7,476.2 L947.8,482.9 L948.0,489.5 L948.1,496.2 L948.2,502.8 L948.3,509.5 L948.4,516.1 L948.6,522.8 L948.7,529.5 L948.8,536.1 L948.9,542.8 L949.0,549.4 L949.2,556.1 L949.3,562.7 L949.4,569.4 L949.5,576.1 L949.6,582.7 L949.8,589.4 L949.9,596.0 L950.0,602.7 L950.1,609.3 L950.2,616.0 L950.3,622.7 L950.3,629.3 L950.4,636.0 L950.5,642.6 L950.6,649.3 L950.7,655.9 L950.8,662.6 L950.9,669.3 L951.0,675.9 L951.1,682.6 L951.2,689.2 L951.3,695.9 L951.4,702.5 L951.5,709.2 L951.6,715.9 L951.7,722.5 L951.8,729.2 L951.9,735.8 L952.0,742.5 L952.1,749.1 L952.2,755.8 L952.3,762.5 L952.4,769.1 L952.5,775.8 L952.6,782.4 L952.7,789.1 L952.8,795.7 L952.9,802.4 L953.0,809.1 L953.1,815.7 L953.2,822.4 L953.3,829.0 L953.4,835.7 L953.5,842.3 L953.6,849.0 L953.7,855.7 L953.8,862.3 L953.9,869.0 L954.0,875.6 L954.1,882.3 L954.2,888.9 L954.3,895.6 L954.4,902.3 L954.5,908.9 L954.6,915.6 L954.7,922.2 L954.8,928.9 L954.9,935.5 L955.0,942.2 L955.1,948.9 L955.2,955.5 L955.3,962.2 L955.4,968.8 L955.5,975.5 L955.6,982.1 L955.7,988.8 L955.8,995.5 L955.9,1002.1 L956.0,1008.8 L956.1,1015.4 L956.2,1022.1 L956.3,1028.7 L956.4,1035.4 L956.5,1042.1 L956.6,1048.7 L956.7,1055.4 L956.8,1062.0 L956.9,1068.7 L957.0,1075.3 L957.1,1082.0 L973.4,1082.0 L973.4,1082.0 L973.9,1063.7 L974.3,1045.4 L974.7,1027.1 L975.1,1008.8 L975.4,990.5 L975.6,972.2 L975.9,953.9 L976.2,935.6 L976.4,917.3 L976.6,899.0 L976.8,880.7 L977.1,862.4 L977.3,844.1 L977.5,825.8 L977.7,807.5 L978.0,789.2 L978.1,770.9 L978.3,752.6 L978.5,734.3 L978.7,715.9 L978.9,697.6 L979.1,679.3 L979.3,661.0 L979.4,642.7 L979.6,624.4 L979.8,606.1 L980.1,587.8 L980.4,569.5 L980.7,551.2 L980.9,532.9 L981.5,514.6 L982.2,496.3 L982.7,478.0 L983.1,459.7 L983.5,441.4 L983.9,423.1 L984.8,404.8 L985.9,386.5 L988.0,368.2 L988.4,366.4 L989.4,365.3 L990.6,365.0 L991.9,365.3 L992.9,366.4 L993.5,368.2 L994.6,374.2 L995.3,380.2 L995.8,386.1 L996.2,392.1 L996.6,398.1 L997.1,404.1 L997.5,410.1 L998.0,416.1 L998.3,422.0 L998.5,428.0 L998.7,434.0 L998.9,440.0 L999.1,446.0 L999.3,451.9 L999.5,457.9 L999.7,463.9 L999.9,469.9 L1000.1,475.9 L1000.3,481.8 L1000.5,487.8 L1000.6,493.8 L1000.7,499.8 L1000.8,505.8 L1000.9,511.8 L1001.1,517.7 L1001.2,523.7 L1001.3,529.7 L1001.4,535.7 L1001.5,541.7 L1001.6,547.6 L1001.8,553.6 L1001.9,559.6 L1002.0,565.6 L1002.1,571.6 L1002.2,577.6 L1002.3,583.5 L1002.5,589.5 L1002.6,595.5 L1002.7,601.5 L1002.8,607.5 L1002.9,613.4 L1003.0,619.4 L1003.2,625.4 L1003.3,631.4 L1003.4,637.4 L1003.5,643.3 L1003.6,649.3 L1003.7,655.3 L1003.9,661.3 L1004.0,667.3 L1004.1,673.3 L1004.2,679.2 L1004.3,685.2 L1004.4,691.2 L1004.5,697.2 L1004.6,703.2 L1004.7,709.1 L1004.7,715.1 L1004.8,721.1 L1004.9,727.1 L1005.0,733.1 L1005.1,739.1 L1005.2,745.0 L1005.3,751.0 L1005.4,757.0 L1005.5,763.0 L1005.6,769.0 L1005.7,774.9 L1005.8,780.9 L1005.9,786.9 L1006.0,792.9 L1006.1,798.9 L1006.2,804.9 L1006.3,810.8 L1006.4,816.8 L1006.5,822.8 L1006.6,828.8 L1006.7,834.8 L1006.8,840.7 L1006.9,846.7 L1007.0,852.7 L1007.1,858.7 L1007.2,864.7 L1007.3,870.6 L1007.4,876.6 L1007.5,882.6 L1007.6,888.6 L1007.6,894.6 L1007.7,900.6 L1007.8,906.5 L1007.9,912.5 L1008.0,918.5 L1008.1,924.5 L1008.2,930.5 L1008.3,936.4 L1008.4,942.4 L1008.5,948.4 L1008.6,954.4 L1008.7,960.4 L1008.8,966.4 L1008.9,972.3 L1009.0,978.3 L1009.1,984.3 L1009.2,990.3 L1009.3,996.3 L1009.4,1002.2 L1009.5,1008.2 L1009.6,1014.2 L1009.7,1020.2 L1009.8,1026.2 L1009.9,1032.1 L1010.0,1038.1 L1010.1,1044.1 L1010.2,1050.1 L1010.3,1056.1 L1010.4,1062.1 L1010.5,1068.0 L1010.5,1074.0 L1010.6,1080.0 L1027.4,1080.0 L1027.4,1080.0 L1027.9,1064.1 L1028.4,1048.1 L1028.8,1032.2 L1029.2,1016.3 L1029.5,1000.4 L1029.8,984.4 L1030.1,968.5 L1030.4,952.6 L1030.6,936.6 L1030.9,920.7 L1031.1,904.8 L1031.3,888.9 L1031.6,872.9 L1031.8,857.0 L1032.0,841.1 L1032.2,825.1 L1032.4,809.2 L1032.6,793.3 L1032.8,777.4 L1033.0,761.4 L1033.2,745.5 L1033.4,729.6 L1033.5,713.7 L1033.7,697.7 L1034.0,681.8 L1034.2,665.9 L1034.5,649.9 L1034.8,634.0 L1035.1,618.1 L1035.7,602.2 L1036.3,586.2 L1036.9,570.3 L1037.2,554.4 L1037.6,538.4 L1037.9,522.5 L1038.4,506.6 L1039.4,490.7 L1040.5,474.7 L1042.5,458.8 L1043.1,457.0 L1044.1,455.9 L1045.4,455.6 L1046.7,455.9 L1047.7,457.0 L1048.3,458.8 L1049.3,464.0 L1050.0,469.2 L1050.4,474.4 L1050.8,479.6 L1051.2,484.8 L1051.5,490.0 L1051.9,495.2 L1052.3,500.4 L1052.7,505.6 L1053.0,510.7 L1053.2,515.9 L1053.4,521.1 L1053.5,526.3 L1053.7,531.5 L1053.9,536.7 L1054.0,541.9 L1054.2,547.1 L1054.4,552.3 L1054.6,557.5 L1054.7,562.7 L1054.9,567.9 L1055.1,573.1 L1055.3,578.3 L1055.4,583.5 L1055.5,588.7 L1055.6,593.9 L1055.7,599.1 L1055.8,604.3 L1055.9,609.5 L1056.0,614.6 L1056.1,619.8 L1056.2,625.0 L1056.3,630.2 L1056.4,635.4 L1056.5,640.6 L1056.6,645.8 L1056.7,651.0 L1056.8,656.2 L1056.9,661.4 L1057.0,666.6 L1057.1,671.8 L1057.2,677.0 L1057.3,682.2 L1057.4,687.4 L1057.5,692.6 L1057.6,697.8 L1057.7,703.0 L1057.8,708.2 L1057.9,713.4 L1058.0,718.5 L1058.1,723.7 L1058.2,728.9 L1058.3,734.1 L1058.4,739.3 L1058.5,744.5 L1058.6,749.7 L1058.7,754.9 L1058.8,760.1 L1058.9,765.3 L1059.0,770.5 L1059.1,775.7 L1059.1,780.9 L1059.2,786.1 L1059.3,791.3 L1059.4,796.5 L1059.5,801.7 L1059.6,806.9 L1059.7,812.1 L1059.7,817.3 L1059.8,822.4 L1059.9,827.6 L1060.0,832.8 L1060.1,838.0 L1060.2,843.2 L1060.2,848.4 L1060.3,853.6 L1060.4,858.8 L1060.5,864.0 L1060.6,869.2 L1060.7,874.4 L1060.7,879.6 L1060.8,884.8 L1060.9,890.0 L1061.0,895.2 L1061.1,900.4 L1061.2,905.6 L1061.2,910.8 L1061.3,916.0 L1061.4,921.2 L1061.5,926.3 L1061.6,931.5 L1061.7,936.7 L1061.7,941.9 L1061.8,947.1 L1061.9,952.3 L1062.0,957.5 L1062.1,962.7 L1062.2,967.9 L1062.3,973.1 L1062.3,978.3 L1062.4,983.5 L1062.5,988.7 L1062.6,993.9 L1062.7,999.1 L1062.8,1004.3 L1062.8,1009.5 L1062.9,1014.7 L1063.0,1019.9 L1063.1,1025.1 L1063.2,1030.2 L1063.3,1035.4 L1063.3,1040.6 L1063.4,1045.8 L1063.5,1051.0 L1063.6,1056.2 L1063.7,1061.4 L1063.8,1066.6 L1063.8,1071.8 L1063.9,1077.0 L1081.8,1077.0 L1081.8,1077.0 L1082.2,1063.6 L1082.6,1050.1 L1083.0,1036.7 L1083.4,1023.3 L1083.7,1009.8 L1084.0,996.4 L1084.3,983.0 L1084.6,969.6 L1084.8,956.1 L1085.0,942.7 L1085.2,929.3 L1085.4,915.8 L1085.7,902.4 L1085.9,889.0 L1086.1,875.5 L1086.3,862.1 L1086.5,848.7 L1086.6,835.2 L1086.8,821.8 L1087.0,808.4 L1087.2,795.0 L1087.4,781.5 L1087.7,768.1 L1087.9,754.7 L1088.1,741.2 L1088.4,727.8 L1088.6,714.4 L1089.1,700.9 L1089.7,687.5 L1090.2,674.1 L1090.6,660.6 L1090.9,647.2 L1091.3,633.8 L1091.6,620.4 L1091.9,606.9 L1092.6,593.5 L1093.5,580.1 L1094.4,566.6 L1096.4,553.2 L1097.0,551.4 L1098.1,550.3 L1099.4,550.0 L1100.8,550.3 L1101.9,551.4 L1102.5,553.2 L1103.4,557.6 L1104.2,561.9 L1104.6,566.3 L1104.9,570.7 L1105.3,575.0 L1105.6,579.4 L1106.0,583.8 L1106.3,588.1 L1106.7,592.5 L1107.0,596.9 L1107.4,601.2 L1107.6,605.6 L1107.8,610.0 L1107.9,614.4 L1108.1,618.7 L1108.2,623.1 L1108.4,627.5 L1108.6,631.8 L1108.7,636.2 L1108.9,640.6 L1109.0,644.9 L1109.2,649.3 L1109.3,653.7 L1109.5,658.0 L1109.7,662.4 L1109.8,666.8 L1110.0,671.1 L1110.1,675.5 L1110.2,679.9 L1110.3,684.2 L1110.4,688.6 L1110.5,693.0 L1110.5,697.3 L1110.6,701.7 L1110.7,706.1 L1110.8,710.5 L1110.9,714.8 L1111.0,719.2 L1111.1,723.6 L1111.2,727.9 L1111.3,732.3 L1111.4,736.7 L1111.5,741.0 L1111.6,745.4 L1111.6,749.8 L1111.7,754.1 L1111.8,758.5 L1111.9,762.9 L1112.0,767.2 L1112.1,771.6 L1112.2,776.0 L1112.3,780.3 L1112.4,784.7 L1112.5,789.1 L1112.6,793.4 L1112.7,797.8 L1112.7,802.2 L1112.8,806.5 L1112.9,810.9 L1113.0,815.3 L1113.1,819.7 L1113.2,824.0 L1113.3,828.4 L1113.4,832.8 L1113.5,837.1 L1113.6,841.5 L1113.7,845.9 L1113.8,850.2 L1113.8,854.6 L1113.9,859.0 L1114.0,863.3 L1114.1,867.7 L1114.1,872.1 L1114.2,876.4 L1114.3,880.8 L1114.4,885.2 L1114.5,889.5 L1114.5,893.9 L1114.6,898.3 L1114.7,902.6 L1114.8,907.0 L1114.8,911.4 L1114.9,915.7 L1115.0,920.1 L1115.1,924.5 L1115.1,928.9 L1115.2,933.2 L1115.3,937.6 L1115.4,942.0 L1115.4,946.3 L1115.5,950.7 L1115.6,955.1 L1115.7,959.4 L1115.7,963.8 L1115.8,968.2 L1115.9,972.5 L1116.0,976.9 L1116.0,981.3 L1116.1,985.6 L1116.2,990.0 L1116.3,994.4 L1116.4,998.7 L1116.4,1003.1 L1116.5,1007.5 L1116.6,1011.8 L1116.7,1016.2 L1116.7,1020.6 L1116.8,1025.0 L1116.9,1029.3 L1117.0,1033.7 L1117.0,1038.1 L1117.1,1042.4 L1117.2,1046.8 L1117.3,1051.2 L1117.3,1055.5 L1117.4,1059.9 L1117.5,1064.3 L1117.6,1068.6 L1117.6,1073.0 L1135.4,1073.0 L1135.4,1073.0 L1135.9,1061.9 L1136.4,1050.9 L1136.9,1039.8 L1137.3,1028.7 L1137.7,1017.6 L1138.1,1006.6 L1138.4,995.5 L1138.7,984.4 L1138.9,973.4 L1139.2,962.3 L1139.4,951.2 L1139.7,940.1 L1139.9,929.1 L1140.1,918.0 L1140.3,906.9 L1140.5,895.9 L1140.7,884.8 L1140.9,873.7 L1141.2,862.6 L1141.4,851.6 L1141.7,840.5 L1141.9,829.4 L1142.2,818.3 L1142.4,807.3 L1142.8,796.2 L1143.3,785.1 L1143.7,774.1 L1144.2,763.0 L1144.6,751.9 L1144.9,740.8 L1145.2,729.8 L1145.4,718.7 L1145.7,707.6 L1146.0,696.6 L1146.5,685.5 L1147.3,674.4 L1148.0,663.3 L1148.8,652.3 L1150.7,641.2 L1151.3,639.4 L1152.4,638.3 L1153.8,638.0 L1155.2,638.3 L1156.4,639.4 L1157.0,641.2 L1157.8,644.8 L1158.6,648.5 L1159.0,652.1 L1159.3,655.7 L1159.6,659.4 L1159.9,663.0 L1160.2,666.7 L1160.5,670.3 L1160.8,673.9 L1161.1,677.6 L1161.4,681.2 L1161.7,684.8 L1162.0,688.5 L1162.2,692.1 L1162.4,695.8 L1162.5,699.4 L1162.7,703.0 L1162.8,706.7 L1162.9,710.3 L1163.1,713.9 L1163.2,717.6 L1163.3,721.2 L1163.5,724.9 L1163.6,728.5 L1163.7,732.1 L1163.9,735.8 L1164.0,739.4 L1164.1,743.0 L1164.3,746.7 L1164.4,750.3 L1164.5,753.9 L1164.7,757.6 L1164.8,761.2 L1164.9,764.9 L1165.0,768.5 L1165.1,772.1 L1165.1,775.8 L1165.2,779.4 L1165.3,783.0 L1165.4,786.7 L1165.5,790.3 L1165.5,794.0 L1165.6,797.6 L1165.7,801.2 L1165.8,804.9 L1165.8,808.5 L1165.9,812.1 L1166.0,815.8 L1166.1,819.4 L1166.2,823.0 L1166.2,826.7 L1166.3,830.3 L1166.4,834.0 L1166.5,837.6 L1166.6,841.2 L1166.6,844.9 L1166.7,848.5 L1166.8,852.1 L1166.9,855.8 L1167.0,859.4 L1167.0,863.1 L1167.1,866.7 L1167.2,870.3 L1167.3,874.0 L1167.4,877.6 L1167.4,881.2 L1167.5,884.9 L1167.6,888.5 L1167.7,892.2 L1167.7,895.8 L1167.8,899.4 L1167.9,903.1 L1168.0,906.7 L1168.1,910.3 L1168.1,914.0 L1168.2,917.6 L1168.3,921.2 L1168.4,924.9 L1168.5,928.5 L1168.5,932.2 L1168.6,935.8 L1168.7,939.4 L1168.8,943.1 L1168.8,946.7 L1168.9,950.3 L1169.0,954.0 L1169.0,957.6 L1169.1,961.3 L1169.2,964.9 L1169.2,968.5 L1169.3,972.2 L1169.4,975.8 L1169.4,979.4 L1169.5,983.1 L1169.6,986.7 L1169.6,990.3 L1169.7,994.0 L1169.8,997.6 L1169.8,1001.3 L1169.9,1004.9 L1169.9,1008.5 L1170.0,1012.2 L1170.1,1015.8 L1170.1,1019.4 L1170.2,1023.1 L1170.3,1026.7 L1170.3,1030.4 L1170.4,1034.0 L1170.5,1037.6 L1170.5,1041.3 L1170.6,1044.9 L1170.7,1048.5 L1170.7,1052.2 L1170.8,1055.8 L1170.9,1059.5 L1170.9,1063.1 L1171.0,1066.7 L1171.1,1070.4 L1171.1,1074.0 L1189.8,1074.0 L1189.8,1074.0 L1190.2,1064.8 L1190.6,1055.7 L1191.0,1046.5 L1191.4,1037.4 L1191.7,1028.2 L1192.0,1019.0 L1192.3,1009.9 L1192.6,1000.7 L1192.8,991.5 L1193.1,982.4 L1193.3,973.2 L1193.5,964.1 L1193.7,954.9 L1193.9,945.7 L1194.2,936.6 L1194.4,927.4 L1194.6,918.3 L1194.8,909.1 L1195.1,899.9 L1195.3,890.8 L1195.5,881.6 L1195.8,872.4 L1196.3,863.3 L1196.7,854.1 L1197.1,845.0 L1197.5,835.8 L1197.9,826.6 L1198.1,817.5 L1198.4,808.3 L1198.6,799.2 L1198.9,790.0 L1199.1,780.8 L1199.4,771.7 L1199.8,762.5 L1200.4,753.3 L1201.1,744.2 L1201.7,735.0 L1202.4,725.9 L1204.1,716.7 L1204.7,714.9 L1205.8,713.8 L1207.2,713.5 L1208.7,713.8 L1209.9,714.9 L1210.5,716.7 L1211.2,719.6 L1211.8,722.6 L1212.4,725.5 L1212.6,728.5 L1212.9,731.4 L1213.1,734.3 L1213.4,737.3 L1213.6,740.2 L1213.9,743.1 L1214.1,746.1 L1214.4,749.0 L1214.6,752.0 L1214.9,754.9 L1215.1,757.8 L1215.4,760.8 L1215.6,763.7 L1215.9,766.7 L1216.0,769.6 L1216.1,772.5 L1216.2,775.5 L1216.4,778.4 L1216.5,781.4 L1216.6,784.3 L1216.7,787.2 L1216.8,790.2 L1216.9,793.1 L1217.0,796.0 L1217.1,799.0 L1217.3,801.9 L1217.4,804.9 L1217.5,807.8 L1217.6,810.7 L1217.7,813.7 L1217.8,816.6 L1217.9,819.6 L1218.1,822.5 L1218.2,825.4 L1218.3,828.4 L1218.4,831.3 L1218.5,834.2 L1218.6,837.2 L1218.7,840.1 L1218.7,843.1 L1218.8,846.0 L1218.9,848.9 L1218.9,851.9 L1219.0,854.8 L1219.1,857.8 L1219.1,860.7 L1219.2,863.6 L1219.3,866.6 L1219.3,869.5 L1219.4,872.4 L1219.5,875.4 L1219.5,878.3 L1219.6,881.3 L1219.7,884.2 L1219.7,887.1 L1219.8,890.1 L1219.9,893.0 L1219.9,896.0 L1220.0,898.9 L1220.1,901.8 L1220.1,904.8 L1220.2,907.7 L1220.3,910.7 L1220.3,913.6 L1220.4,916.5 L1220.5,919.5 L1220.5,922.4 L1220.6,925.3 L1220.7,928.3 L1220.7,931.2 L1220.8,934.2 L1220.9,937.1 L1220.9,940.0 L1221.0,943.0 L1221.1,945.9 L1221.1,948.9 L1221.2,951.8 L1221.3,954.7 L1221.3,957.7 L1221.4,960.6 L1221.5,963.5 L1221.5,966.5 L1221.6,969.4 L1221.7,972.4 L1221.7,975.3 L1221.8,978.2 L1221.9,981.2 L1221.9,984.1 L1222.0,987.1 L1222.0,990.0 L1222.1,992.9 L1222.2,995.9 L1222.2,998.8 L1222.3,1001.7 L1222.4,1004.7 L1222.4,1007.6 L1222.5,1010.6 L1222.6,1013.5 L1222.6,1016.4 L1222.7,1019.4 L1222.8,1022.3 L1222.8,1025.3 L1222.9,1028.2 L1222.9,1031.1 L1223.0,1034.1 L1223.0,1037.0 L1223.1,1040.0 L1223.1,1042.9 L1223.2,1045.8 L1223.2,1048.8 L1223.3,1051.7 L1223.4,1054.6 L1223.4,1057.6 L1223.5,1060.5 L1223.5,1063.5 L1223.6,1066.4 L1243.8,1066.4 L1244.0,1066.5 L1243.4,1063.8 L1244.2,1048.4 L1246.0,1014.8 L1247.5,976.2 L1249.3,937.5 L1250.6,898.9 L1252.7,860.2 L1255.0,821.5 L1258.4,795.8 L1259.6,789.8 L1261.4,787.5 L1263.3,788.6 L1264.8,791.9 L1268.1,808.7 L1270.7,834.4 L1272.5,857.6 L1274.5,870.0 L1275.0,898.0 L1287.0,1014.0 L1294.5,1064.5 L1297.5,1061.2 L1299.1,1048.4 L1301.6,1014.8 L1303.5,976.2 L1305.5,937.5 L1307.3,904.0 L1309.4,873.1 L1312.0,844.7 L1313.3,838.7 L1315.1,836.5 L1317.2,837.9 L1318.9,842.2 L1321.5,860.2 L1324.1,880.8 L1325.9,896.3 L1327.0,905.0 L1333.0,960.0 L1348.0,1061.5 L1351.8,1060.0 L1354.4,1041.5 L1356.6,1018.0 L1358.8,989.0 L1360.8,960.0 L1362.7,933.0 L1364.5,916.0 L1366.6,909.2 L1368.4,904.2 L1370.5,902.0 L1372.6,903.3 L1374.6,906.8 L1377.5,920.5 L1379.5,934.8 L1381.0,943.0 L1388.0,990.0 L1403.0,1067.0 L1407.3,1065.5 L1410.0,1049.1 L1411.8,1030.9 L1413.6,1010.9 L1415.5,992.7 L1417.3,976.4 L1420.0,963.6 L1421.8,959.0 L1424.0,957.3 L1426.3,958.6 L1428.2,961.8 L1430.0,972.7 L1432.5,976.0 L1442.0,1020.0 L1455.0,1072.5 L1462.7,1069.0 L1465.5,1058.2 L1467.3,1047.3 L1469.1,1034.5 L1470.5,1023.6 L1471.8,1019.1 L1475.5,1017.3 L1480.0,1017.3 L1482.7,1020.0 L1483.6,1023.6 L1489.0,1030.0 L1498.0,1050.0 L1508.0,1078.0 L1514.0,1085.0 L1518.2,1078.2 L1521.8,1065.5 L1525.5,1057.3 L1529.1,1052.7 L1532.7,1051.8 L1536.4,1054.5 L1539.1,1059.1 L1545.0,1064.0 L1557.0,1082.0 L1569.0,1094.0 L1573.0,1090.0 L1577.0,1084.0 L1581.0,1079.5 L1584.0,1078.0 L1588.0,1080.5 L1595.0,1082.0 L1608.0,1090.0 L1618.0,1098.5 L1625.0,1095.0 L1630.0,1092.8 L1636.0,1092.3 L1645.0,1094.0 L1660.0,1097.0 L1678.0,1104.5 L1688.0,1100.5 L1700.0,1100.0 L1720.0,1105.0 L1790.0,1108.0 L1790.0,1107.6Z" fill="#0000ff"/>
<circle cx="269.4" cy="1083.6" r="4.4" fill="#0000ff"/>
<g fill="none" stroke="#0000ff" stroke-width="4" stroke-linecap="round" stroke-linejoin="round">
<path d="M311.2,1011 L313.6,1020 L315,1026"/>
<path d="M364.8,997 L367.5,1014 L369.6,1029"/>
<path d="M417,982 L420,996 L422.3,1010"/>
</g>
<g fill="none" stroke="#0000ff" stroke-width="2.2" stroke-linecap="round" stroke-linejoin="round">
<path d="M1667,1108.6 L1675,1109.4 L1683,1109.2"/>
<path d="M1711,1108.8 L1722,1110 L1735,1109.4"/>
<path d="M1751,1109.4 L1770,1110.4 L1786,1110.6 L1789,1113"/>
</g>
<path d="M272.7,1107.6 L272.7,1091.0 L272.9,1081.8 L273.0,1072.7 L273.2,1063.5 L273.3,1054.4 L273.5,1045.2 L273.8,1036.0 L274.4,1026.9 L274.9,1017.7 L275.5,1008.5 L276.0,999.4 L276.5,990.2 L277.0,981.1 L277.5,971.9 L278.0,962.7 L278.5,953.6 L279.0,944.4 L279.4,935.3 L279.9,926.1 L280.4,916.9 L280.9,907.8 L281.4,898.6 L281.9,889.4 L282.3,880.3 L282.8,871.1 L283.3,862.0 L283.8,852.8 L284.2,843.6 L284.7,834.5 L285.1,825.3 L285.6,816.2 L286.1,807.0 L286.5,797.8 L287.0,788.7 L287.6,779.5 L288.1,770.3 L288.6,761.2 L289.1,752.0 L289.7,742.9 L290.5,733.7 L290.9,731.9 L291.9,730.8 L293.0,730.5 L294.1,730.8 L295.1,731.9 L295.5,733.7 L297.3,744.0 L300.3,827.0 L304.5,930.0 L307.0,983.0 L309.0,1000.0 L312.0,1012.0 L315.0,1024.0 L318.0,1048.0 L320.3,1060.0 L324.4,1075.0 L324.4,1075.0 L325.4,1065.9 L326.3,1056.7 L327.3,1047.6 L328.1,1038.4 L328.9,1029.3 L329.7,1020.1 L330.4,1011.0 L331.0,1001.8 L331.7,992.7 L332.3,983.5 L332.7,974.4 L333.1,965.2 L333.6,956.1 L333.9,946.9 L334.3,937.8 L334.6,928.6 L334.9,919.5 L335.2,910.3 L335.5,901.2 L335.8,892.0 L336.2,882.9 L336.7,873.7 L337.1,864.6 L337.5,855.4 L337.9,846.3 L338.2,837.1 L338.5,828.0 L338.8,818.8 L339.1,809.7 L339.4,800.5 L339.7,791.4 L340.1,782.2 L340.6,773.1 L341.0,763.9 L341.4,754.8 L341.9,745.6 L342.3,736.5 L343.1,727.3 L343.9,718.2 L344.3,716.4 L345.3,715.3 L346.4,715.0 L347.5,715.3 L348.4,716.4 L348.9,718.2 L351.8,744.0 L355.5,850.0 L359.0,930.0 L361.4,968.0 L365.2,998.0 L369.7,1033.0 L374.2,1059.0 L379.4,1074.6 L379.4,1074.6 L380.1,1064.6 L380.9,1054.5 L381.6,1044.5 L382.2,1034.4 L382.9,1024.4 L383.5,1014.3 L383.9,1004.3 L384.4,994.2 L384.8,984.2 L385.2,974.1 L385.6,964.1 L386.0,954.0 L386.4,944.0 L386.8,934.0 L387.1,923.9 L387.4,913.9 L387.6,903.8 L387.9,893.8 L388.1,883.7 L388.4,873.7 L388.6,863.6 L388.9,853.6 L389.3,843.5 L389.7,833.5 L390.1,823.4 L390.5,813.4 L390.8,803.4 L391.0,793.3 L391.3,783.3 L391.6,773.2 L391.9,763.2 L392.1,753.1 L392.5,743.1 L393.0,733.0 L393.5,723.0 L393.9,712.9 L394.4,702.9 L395.2,692.8 L396.1,682.8 L396.6,681.0 L397.5,679.9 L398.6,679.6 L399.7,679.9 L400.7,681.0 L401.1,682.8 L406.6,744.0 L410.8,850.0 L414.4,930.0 L416.0,975.0 L417.4,983.0 L422.7,1021.0 L427.3,1059.0 L432.4,1080.6 L432.4,1080.6 L433.4,1069.2 L434.3,1057.8 L435.2,1046.4 L436.0,1035.0 L436.8,1023.6 L437.4,1012.2 L437.9,1000.8 L438.5,989.4 L438.9,978.0 L439.3,966.7 L439.7,955.3 L440.1,943.9 L440.5,932.5 L440.9,921.1 L441.3,909.7 L441.7,898.3 L442.1,886.9 L442.4,875.5 L442.8,864.1 L443.0,852.7 L443.2,841.3 L443.5,829.9 L443.7,818.5 L444.0,807.1 L444.5,795.7 L444.9,784.3 L445.3,772.9 L445.6,761.5 L445.9,750.1 L446.1,738.8 L446.4,727.4 L446.7,716.0 L447.0,704.6 L447.5,693.2 L448.0,681.8 L448.5,670.4 L449.1,659.0 L449.9,647.6 L450.9,636.2 L451.3,634.4 L452.3,633.3 L453.4,633.0 L454.5,633.3 L455.4,634.4 L455.9,636.2 L457.6,647.7 L458.6,659.2 L459.4,670.7 L460.2,682.2 L461.0,693.7 L461.5,705.2 L461.7,716.7 L461.9,728.2 L462.2,739.7 L462.6,751.2 L463.2,762.7 L463.7,774.2 L464.1,785.7 L464.5,797.2 L464.9,808.7 L465.3,820.2 L465.8,831.7 L466.4,843.2 L466.9,854.7 L467.5,866.1 L468.1,877.6 L468.7,889.1 L469.3,900.6 L469.9,912.1 L470.5,923.6 L471.1,935.1 L471.8,946.6 L472.5,958.1 L473.3,969.6 L474.0,981.1 L475.0,992.6 L476.2,1004.1 L477.6,1015.6 L479.1,1027.1 L480.7,1038.6 L482.2,1050.1 L483.7,1061.6 L485.2,1073.1 L486.6,1084.6 L486.6,1084.6 L487.5,1071.3 L488.5,1058.0 L489.3,1044.6 L490.1,1031.3 L490.8,1018.0 L491.4,1004.7 L492.0,991.4 L492.4,978.1 L492.9,964.7 L493.3,951.4 L493.7,938.1 L494.1,924.8 L494.4,911.5 L494.7,898.1 L495.1,884.8 L495.4,871.5 L495.8,858.2 L496.2,844.9 L496.6,831.6 L496.9,818.2 L497.2,804.9 L497.6,791.6 L497.8,778.3 L498.0,765.0 L498.1,751.7 L498.4,738.3 L498.8,725.0 L499.2,711.7 L499.6,698.4 L499.9,685.1 L500.3,671.7 L500.6,658.4 L500.9,645.1 L501.3,631.8 L501.9,618.5 L502.5,605.2 L503.1,591.8 L504.0,578.5 L505.1,565.2 L505.6,563.4 L506.5,562.3 L507.6,562.0 L508.7,562.3 L509.7,563.4 L510.1,565.2 L512.1,578.5 L513.0,591.9 L514.0,605.2 L514.9,618.6 L515.6,631.9 L515.9,645.2 L516.1,658.6 L516.3,671.9 L516.7,685.2 L517.1,698.6 L517.4,711.9 L517.6,725.3 L517.9,738.6 L518.4,751.9 L519.0,765.3 L519.5,778.6 L520.1,792.0 L520.7,805.3 L521.4,818.6 L522.1,832.0 L522.8,845.3 L523.5,858.6 L524.2,872.0 L524.9,885.3 L525.5,898.7 L526.2,912.0 L526.8,925.3 L527.5,938.7 L528.3,952.0 L529.1,965.4 L529.9,978.7 L530.9,992.0 L532.1,1005.4 L533.6,1018.7 L535.3,1032.0 L537.1,1045.4 L538.8,1058.7 L540.4,1072.1 L542.0,1085.4 L542.0,1085.4 L542.9,1070.3 L543.7,1055.2 L544.4,1040.1 L545.1,1025.0 L545.6,1009.9 L546.1,994.8 L546.6,979.6 L547.0,964.5 L547.4,949.4 L547.8,934.3 L548.2,919.2 L548.5,904.1 L548.9,889.0 L549.3,873.9 L549.6,858.8 L549.9,843.7 L550.2,828.6 L550.5,813.5 L550.8,798.4 L551.2,783.2 L551.5,768.1 L551.9,753.0 L552.1,737.9 L552.4,722.8 L552.6,707.7 L552.8,692.6 L553.0,677.5 L553.4,662.4 L553.9,647.3 L554.4,632.2 L554.7,617.1 L555.1,602.0 L555.4,586.8 L555.8,571.7 L556.3,556.6 L557.0,541.5 L557.7,526.4 L558.6,511.3 L559.9,496.2 L560.4,494.4 L561.3,493.3 L562.4,493.0 L563.5,493.3 L564.4,494.4 L564.9,496.2 L567.1,511.4 L568.1,526.5 L569.1,541.7 L570.2,556.9 L570.6,572.1 L570.9,587.2 L571.1,602.4 L571.5,617.6 L572.0,632.8 L572.3,647.9 L572.5,663.1 L572.8,678.3 L573.2,693.5 L573.6,708.6 L574.0,723.8 L574.5,739.0 L575.2,754.2 L575.9,769.3 L576.5,784.5 L577.2,799.7 L577.8,814.9 L578.5,830.0 L579.1,845.2 L579.8,860.4 L580.5,875.6 L581.2,890.7 L581.8,905.9 L582.4,921.1 L582.9,936.3 L583.6,951.4 L584.3,966.6 L585.1,981.8 L586.0,997.0 L587.1,1012.1 L588.5,1027.3 L590.0,1042.5 L591.6,1057.7 L593.0,1072.8 L594.4,1088.0 L594.4,1088.0 L595.8,1071.8 L597.2,1055.6 L598.4,1039.4 L599.4,1023.2 L600.2,1006.9 L600.9,990.7 L601.5,974.5 L602.0,958.3 L602.5,942.1 L603.0,925.9 L603.5,909.7 L604.0,893.5 L604.5,877.3 L604.9,861.1 L605.3,844.8 L605.7,828.6 L606.0,812.4 L606.4,796.2 L606.7,780.0 L607.0,763.8 L607.3,747.6 L607.6,731.4 L608.0,715.2 L608.3,699.0 L608.6,682.7 L608.8,666.5 L609.0,650.3 L609.3,634.1 L609.7,617.9 L610.2,601.7 L610.7,585.5 L611.1,569.3 L611.5,553.1 L611.8,536.9 L612.3,520.6 L613.1,504.4 L613.8,488.2 L614.7,472.0 L616.1,455.8 L616.6,454.0 L617.5,452.9 L618.6,452.6 L619.7,452.9 L620.6,454.0 L621.1,455.8 L623.3,471.9 L624.4,488.1 L625.5,504.2 L626.6,520.4 L626.9,536.5 L627.2,552.7 L627.5,568.8 L628.0,584.9 L628.4,601.1 L628.6,617.2 L628.9,633.4 L629.3,649.5 L629.7,665.7 L630.2,681.8 L630.7,698.0 L631.2,714.1 L631.8,730.2 L632.4,746.4 L633.0,762.5 L633.7,778.7 L634.3,794.8 L634.9,811.0 L635.5,827.1 L636.2,843.2 L636.8,859.4 L637.4,875.5 L638.0,891.7 L638.6,907.8 L639.1,924.0 L639.7,940.1 L640.4,956.3 L641.1,972.4 L641.8,988.5 L642.8,1004.7 L644.0,1020.8 L645.3,1037.0 L646.6,1053.1 L647.8,1069.3 L649.0,1085.4 L649.0,1085.4 L649.9,1068.3 L650.8,1051.2 L651.6,1034.0 L652.3,1016.9 L652.8,999.8 L653.3,982.7 L653.7,965.6 L654.1,948.5 L654.4,931.3 L654.8,914.2 L655.2,897.1 L655.6,880.0 L656.0,862.9 L656.3,845.7 L656.6,828.6 L657.0,811.5 L657.3,794.4 L657.6,777.3 L657.9,760.2 L658.1,743.0 L658.4,725.9 L658.7,708.8 L659.1,691.7 L659.5,674.6 L659.8,657.5 L660.1,640.3 L660.3,623.2 L660.5,606.1 L660.8,589.0 L661.4,571.9 L661.9,554.7 L662.4,537.6 L662.7,520.5 L663.1,503.4 L663.6,486.3 L664.4,469.2 L665.1,452.0 L666.0,434.9 L667.5,417.8 L668.0,416.0 L668.9,414.9 L670.0,414.6 L671.1,414.9 L672.0,416.0 L672.5,417.8 L674.8,434.9 L676.0,452.0 L677.1,469.2 L678.1,486.3 L678.4,503.4 L678.7,520.5 L679.1,537.6 L679.6,554.7 L679.9,571.9 L680.2,589.0 L680.6,606.1 L681.0,623.2 L681.5,640.3 L682.0,657.5 L682.6,674.6 L683.1,691.7 L683.7,708.8 L684.2,725.9 L684.8,743.0 L685.6,760.2 L686.3,777.3 L687.0,794.4 L687.7,811.5 L688.3,828.6 L689.0,845.7 L689.7,862.9 L690.4,880.0 L691.1,897.1 L691.7,914.2 L692.3,931.3 L693.1,948.5 L693.9,965.6 L694.7,982.7 L695.9,999.8 L697.3,1016.9 L698.9,1034.0 L700.5,1051.2 L702.1,1068.3 L703.6,1085.4 L703.6,1085.4 L704.7,1067.9 L705.7,1050.4 L706.7,1033.0 L707.4,1015.5 L708.0,998.0 L708.5,980.5 L709.0,963.1 L709.4,945.6 L709.8,928.1 L710.1,910.6 L710.5,893.2 L711.0,875.7 L711.4,858.2 L711.7,840.7 L712.1,823.2 L712.5,805.8 L712.8,788.3 L713.1,770.8 L713.4,753.3 L713.6,735.9 L713.9,718.4 L714.2,700.9 L714.6,683.4 L715.0,666.0 L715.3,648.5 L715.6,631.0 L715.8,613.5 L716.1,596.0 L716.3,578.6 L716.9,561.1 L717.4,543.6 L717.9,526.1 L718.3,508.7 L718.7,491.2 L719.1,473.7 L719.9,456.2 L720.7,438.8 L721.6,421.3 L723.1,403.8 L723.6,402.0 L724.5,400.9 L725.6,400.6 L726.7,400.9 L727.6,402.0 L728.1,403.8 L730.4,421.2 L731.6,438.5 L732.8,455.9 L733.7,473.3 L734.0,490.6 L734.3,508.0 L734.8,525.3 L735.3,542.7 L735.6,560.1 L735.9,577.4 L736.2,594.8 L736.7,612.2 L737.2,629.5 L737.7,646.9 L738.3,664.3 L738.9,681.6 L739.4,699.0 L740.0,716.4 L740.5,733.7 L741.2,751.1 L741.9,768.4 L742.5,785.8 L743.2,803.2 L743.8,820.5 L744.4,837.9 L745.1,855.3 L745.7,872.6 L746.3,890.0 L746.9,907.4 L747.5,924.7 L748.2,942.1 L748.9,959.5 L749.7,976.8 L750.7,994.2 L751.8,1011.5 L753.1,1028.9 L754.5,1046.3 L755.7,1063.6 L757.0,1081.0 L757.0,1081.0 L758.2,1063.8 L759.3,1046.5 L760.3,1029.3 L761.1,1012.0 L761.8,994.8 L762.4,977.6 L762.9,960.3 L763.3,943.1 L763.7,925.8 L764.1,908.6 L764.5,891.3 L765.0,874.1 L765.4,856.9 L765.8,839.6 L766.1,822.4 L766.5,805.1 L766.9,787.9 L767.2,770.7 L767.4,753.4 L767.7,736.2 L767.9,718.9 L768.3,701.7 L768.6,684.5 L769.0,667.2 L769.3,650.0 L769.6,632.7 L769.9,615.5 L770.1,598.3 L770.4,581.0 L770.9,563.8 L771.5,546.5 L771.9,529.3 L772.3,512.0 L772.7,494.8 L773.1,477.6 L773.9,460.3 L774.7,443.1 L775.6,425.8 L777.1,408.6 L777.6,406.8 L778.5,405.7 L779.6,405.4 L780.7,405.7 L781.6,406.8 L782.1,408.6 L784.4,426.0 L785.6,443.4 L786.8,460.8 L787.7,478.2 L788.0,495.6 L788.3,513.0 L788.8,530.4 L789.3,547.8 L789.6,565.2 L789.9,582.5 L790.2,599.9 L790.7,617.3 L791.2,634.7 L791.7,652.1 L792.3,669.5 L792.9,686.9 L793.5,704.3 L794.0,721.7 L794.5,739.1 L795.2,756.5 L795.9,773.9 L796.6,791.3 L797.3,808.7 L797.9,826.1 L798.5,843.5 L799.2,860.9 L799.8,878.3 L800.4,895.7 L801.1,913.1 L801.7,930.4 L802.4,947.8 L803.1,965.2 L803.9,982.6 L804.9,1000.0 L806.1,1017.4 L807.5,1034.8 L808.9,1052.2 L810.3,1069.6 L811.6,1087.0 L811.6,1087.0 L812.9,1070.1 L814.1,1053.3 L815.1,1036.4 L816.0,1019.6 L816.7,1002.7 L817.3,985.9 L817.8,969.0 L818.2,952.1 L818.7,935.3 L819.1,918.4 L819.6,901.6 L820.0,884.7 L820.5,867.9 L820.8,851.0 L821.2,834.2 L821.6,817.3 L821.9,800.4 L822.3,783.6 L822.5,766.7 L822.8,749.9 L823.0,733.0 L823.4,716.2 L823.8,699.3 L824.1,682.4 L824.4,665.6 L824.7,648.7 L824.9,631.9 L825.2,615.0 L825.5,598.2 L826.1,581.3 L826.6,564.5 L827.0,547.6 L827.4,530.7 L827.8,513.9 L828.2,497.0 L829.0,480.2 L829.8,463.3 L830.7,446.5 L832.1,429.6 L832.6,427.8 L833.5,426.7 L834.6,426.4 L835.7,426.7 L836.6,427.8 L837.1,429.6 L839.4,446.4 L840.5,463.2 L841.7,480.0 L842.7,496.8 L842.9,513.6 L843.2,530.4 L843.6,547.2 L844.2,564.0 L844.5,580.8 L844.8,597.7 L845.1,614.5 L845.5,631.3 L846.0,648.1 L846.5,664.9 L847.0,681.7 L847.6,698.5 L848.1,715.3 L848.7,732.1 L849.3,748.9 L850.0,765.7 L850.6,782.5 L851.3,799.3 L851.9,816.1 L852.6,832.9 L853.2,849.7 L853.8,866.5 L854.5,883.3 L855.1,900.1 L855.7,916.9 L856.3,933.8 L857.0,950.6 L857.7,967.4 L858.4,984.2 L859.5,1001.0 L860.7,1017.8 L862.1,1034.6 L863.4,1051.4 L864.7,1068.2 L866.0,1085.0 L866.0,1085.0 L867.0,1069.0 L867.9,1052.9 L868.7,1036.9 L869.4,1020.9 L870.0,1004.8 L870.5,988.8 L871.0,972.7 L871.4,956.7 L871.8,940.7 L872.3,924.6 L872.7,908.6 L873.1,892.6 L873.5,876.5 L873.9,860.5 L874.2,844.5 L874.6,828.4 L874.9,812.4 L875.3,796.4 L875.6,780.3 L875.9,764.3 L876.2,748.2 L876.6,732.2 L877.0,716.2 L877.3,700.1 L877.6,684.1 L877.9,668.1 L878.1,652.0 L878.3,636.0 L878.9,620.0 L879.5,603.9 L880.0,587.9 L880.4,571.9 L880.8,555.8 L881.2,539.8 L881.7,523.7 L882.6,507.7 L883.4,491.7 L884.4,475.6 L885.9,459.6 L886.3,457.8 L887.4,456.7 L888.6,456.4 L889.8,456.7 L890.9,457.8 L891.4,459.6 L893.8,475.5 L895.0,491.3 L896.2,507.2 L897.4,523.1 L897.7,539.0 L898.0,554.8 L898.3,570.7 L898.9,586.6 L899.3,602.4 L899.6,618.3 L899.9,634.2 L900.3,650.1 L900.8,665.9 L901.2,681.8 L901.8,697.7 L902.3,713.5 L902.9,729.4 L903.6,745.3 L904.3,761.2 L904.9,777.0 L905.6,792.9 L906.2,808.8 L906.9,824.7 L907.6,840.5 L908.2,856.4 L908.8,872.3 L909.4,888.1 L910.0,904.0 L910.6,919.9 L911.2,935.8 L911.8,951.6 L912.5,967.5 L913.3,983.4 L914.2,999.2 L915.4,1015.1 L916.6,1031.0 L917.8,1046.9 L918.9,1062.7 L920.0,1078.6 L920.0,1078.6 L920.7,1064.3 L921.5,1050.0 L922.1,1035.6 L922.7,1021.3 L923.3,1007.0 L923.8,992.7 L924.3,978.4 L924.7,964.1 L925.2,949.7 L925.6,935.4 L926.0,921.1 L926.3,906.8 L926.7,892.5 L927.1,878.1 L927.4,863.8 L927.8,849.5 L928.1,835.2 L928.4,820.9 L928.9,806.6 L929.4,792.2 L929.8,777.9 L930.1,763.6 L930.5,749.3 L930.7,735.0 L930.9,720.7 L931.2,706.3 L931.5,692.0 L932.1,677.7 L932.7,663.4 L933.2,649.1 L933.6,634.7 L934.0,620.4 L934.4,606.1 L934.8,591.8 L935.6,577.5 L936.4,563.2 L937.3,548.8 L938.4,534.5 L939.9,520.2 L940.4,518.4 L941.6,517.3 L943.0,517.0 L944.4,517.3 L945.6,518.4 L946.1,520.2 L948.8,534.6 L950.0,549.0 L951.2,563.3 L952.4,577.7 L953.2,592.1 L953.5,606.5 L953.8,620.9 L954.2,635.2 L954.8,649.6 L955.2,664.0 L955.5,678.4 L955.8,692.8 L956.2,707.1 L956.6,721.5 L957.1,735.9 L957.7,750.3 L958.4,764.7 L959.1,779.0 L959.7,793.4 L960.4,807.8 L961.1,822.2 L961.7,836.5 L962.3,850.9 L963.0,865.3 L963.6,879.7 L964.2,894.1 L964.9,908.4 L965.5,922.8 L966.0,937.2 L966.6,951.6 L967.2,966.0 L967.8,980.3 L968.6,994.7 L969.4,1009.1 L970.3,1023.5 L971.2,1037.9 L972.2,1052.2 L973.1,1066.6 L974.0,1081.0 L974.0,1081.0 L974.6,1068.3 L975.3,1055.6 L975.8,1042.9 L976.4,1030.3 L976.9,1017.6 L977.3,1004.9 L977.8,992.2 L978.2,979.5 L978.5,966.8 L978.9,954.1 L979.3,941.4 L979.6,928.8 L979.9,916.1 L980.2,903.4 L980.6,890.7 L981.0,878.0 L981.4,865.3 L981.9,852.6 L982.3,839.9 L982.6,827.3 L983.0,814.6 L983.2,801.9 L983.5,789.2 L983.8,776.5 L984.0,763.8 L984.5,751.1 L985.0,738.4 L985.6,725.8 L986.1,713.1 L986.4,700.4 L986.8,687.7 L987.2,675.0 L987.6,662.3 L988.2,649.6 L989.0,636.9 L989.8,624.3 L990.6,611.6 L991.8,598.9 L993.2,586.2 L993.8,584.4 L995.1,583.3 L996.6,583.0 L998.0,583.3 L999.2,584.4 L999.8,586.2 L1002.2,598.8 L1003.4,611.5 L1004.5,624.1 L1005.6,636.7 L1006.7,649.4 L1007.0,662.0 L1007.3,674.7 L1007.6,687.3 L1007.9,699.9 L1008.4,712.6 L1008.9,725.2 L1009.2,737.8 L1009.6,750.5 L1010.0,763.1 L1010.4,775.7 L1010.9,788.4 L1011.5,801.0 L1012.0,813.6 L1012.6,826.3 L1013.3,838.9 L1013.9,851.6 L1014.6,864.2 L1015.2,876.8 L1015.9,889.5 L1016.5,902.1 L1017.1,914.7 L1017.7,927.4 L1018.3,940.0 L1019.0,952.6 L1019.6,965.3 L1020.3,977.9 L1021.2,990.5 L1022.0,1003.2 L1023.0,1015.8 L1024.0,1028.5 L1025.0,1041.1 L1026.0,1053.7 L1027.0,1066.4 L1028.0,1079.0 L1028.0,1079.0 L1028.9,1067.5 L1029.7,1056.0 L1030.5,1044.6 L1031.3,1033.1 L1032.0,1021.6 L1032.6,1010.1 L1033.1,998.6 L1033.7,987.1 L1034.1,975.7 L1034.6,964.2 L1035.0,952.7 L1035.4,941.2 L1035.8,929.7 L1036.3,918.3 L1036.8,906.8 L1037.3,895.3 L1037.7,883.8 L1038.1,872.3 L1038.6,860.8 L1038.9,849.4 L1039.2,837.9 L1039.5,826.4 L1039.7,814.9 L1040.1,803.4 L1040.7,791.9 L1041.3,780.5 L1041.9,769.0 L1042.3,757.5 L1042.7,746.0 L1043.1,734.5 L1043.4,723.1 L1043.8,711.6 L1044.2,700.1 L1045.0,688.6 L1045.8,677.1 L1046.5,665.6 L1047.3,654.2 L1048.6,642.7 L1050.0,631.2 L1050.6,629.4 L1052.0,628.3 L1053.6,628.0 L1055.0,628.3 L1056.2,629.4 L1056.8,631.2 L1059.0,642.6 L1060.2,654.0 L1061.2,665.4 L1062.2,676.8 L1063.2,688.2 L1063.9,699.6 L1064.2,711.0 L1064.4,722.4 L1064.7,733.8 L1065.1,745.3 L1065.7,756.7 L1066.2,768.1 L1066.5,779.5 L1066.8,790.9 L1067.1,802.3 L1067.5,813.7 L1068.0,825.1 L1068.4,836.5 L1068.9,847.9 L1069.4,859.3 L1070.0,870.7 L1070.5,882.1 L1071.1,893.5 L1071.7,904.9 L1072.2,916.3 L1072.8,927.7 L1073.4,939.1 L1073.9,950.5 L1074.5,961.9 L1075.1,973.4 L1075.8,984.8 L1076.5,996.2 L1077.4,1007.6 L1078.3,1019.0 L1079.2,1030.4 L1080.0,1041.8 L1080.8,1053.2 L1081.6,1064.6 L1082.4,1076.0 L1082.4,1076.0 L1083.1,1066.3 L1083.7,1056.6 L1084.4,1046.9 L1085.0,1037.1 L1085.6,1027.4 L1086.2,1017.7 L1086.6,1008.0 L1087.1,998.3 L1087.6,988.6 L1088.1,978.9 L1088.6,969.2 L1089.1,959.4 L1089.5,949.7 L1089.9,940.0 L1090.3,930.3 L1090.6,920.6 L1090.9,910.9 L1091.2,901.2 L1091.5,891.5 L1091.8,881.7 L1092.1,872.0 L1092.6,862.3 L1093.2,852.6 L1093.7,842.9 L1094.3,833.2 L1094.7,823.5 L1095.1,813.8 L1095.5,804.0 L1095.9,794.3 L1096.3,784.6 L1096.6,774.9 L1097.1,765.2 L1097.8,755.5 L1098.5,745.8 L1099.1,736.1 L1099.8,726.3 L1100.6,716.6 L1101.8,706.9 L1103.1,697.2 L1103.8,695.4 L1105.3,694.3 L1107.0,694.0 L1108.5,694.3 L1109.7,695.4 L1110.2,697.2 L1112.1,706.8 L1113.4,716.4 L1114.3,726.0 L1115.2,735.6 L1116.2,745.3 L1117.1,754.9 L1117.8,764.5 L1118.1,774.1 L1118.4,783.7 L1118.7,793.3 L1119.0,802.9 L1119.4,812.5 L1119.9,822.1 L1120.5,831.7 L1120.8,841.4 L1121.1,851.0 L1121.4,860.6 L1121.8,870.2 L1122.1,879.8 L1122.5,889.4 L1123.0,899.0 L1123.4,908.6 L1123.8,918.2 L1124.3,927.8 L1124.9,937.5 L1125.4,947.1 L1126.0,956.7 L1126.6,966.3 L1127.3,975.9 L1128.0,985.5 L1128.8,995.1 L1129.7,1004.7 L1130.6,1014.3 L1131.5,1023.9 L1132.4,1033.6 L1133.4,1043.2 L1134.2,1052.8 L1135.1,1062.4 L1136.0,1072.0 L1136.0,1072.0 L1136.6,1064.0 L1137.2,1056.0 L1137.8,1048.1 L1138.5,1040.1 L1139.1,1032.1 L1139.6,1024.1 L1140.2,1016.1 L1140.7,1008.2 L1141.1,1000.2 L1141.5,992.2 L1141.9,984.2 L1142.2,976.2 L1142.5,968.3 L1142.8,960.3 L1143.1,952.3 L1143.4,944.3 L1143.7,936.3 L1144.2,928.4 L1144.7,920.4 L1145.2,912.4 L1145.7,904.4 L1146.2,896.5 L1146.6,888.5 L1147.0,880.5 L1147.4,872.5 L1147.7,864.5 L1148.1,856.6 L1148.5,848.6 L1148.8,840.6 L1149.2,832.6 L1149.8,824.6 L1150.4,816.7 L1151.1,808.7 L1151.8,800.7 L1152.4,792.7 L1153.1,784.7 L1154.0,776.8 L1155.2,768.8 L1156.3,760.8 L1157.1,759.0 L1158.7,757.9 L1160.6,757.6 L1162.1,757.9 L1163.3,759.0 L1163.8,760.8 L1166.0,768.8 L1167.4,776.8 L1168.2,784.8 L1169.0,792.8 L1169.8,800.8 L1170.6,808.8 L1171.5,816.8 L1172.3,824.8 L1172.6,832.8 L1172.9,840.9 L1173.2,848.9 L1173.5,856.9 L1173.8,864.9 L1174.2,872.9 L1174.6,880.9 L1175.1,888.9 L1175.5,896.9 L1175.8,904.9 L1176.1,912.9 L1176.4,920.9 L1176.7,928.9 L1177.1,936.9 L1177.5,944.9 L1177.9,952.9 L1178.4,960.9 L1178.9,968.9 L1179.5,976.9 L1180.2,984.9 L1180.9,992.9 L1181.8,1001.0 L1182.7,1009.0 L1183.7,1017.0 L1184.7,1025.0 L1185.7,1033.0 L1186.7,1041.0 L1187.6,1049.0 L1188.6,1057.0 L1189.5,1065.0 L1190.4,1073.0 L1190.4,1073.0 L1191.0,1066.3 L1191.6,1059.7 L1192.2,1053.0 L1192.8,1046.4 L1193.3,1039.7 L1193.8,1033.0 L1194.3,1026.4 L1194.7,1019.7 L1195.2,1013.0 L1195.5,1006.4 L1195.9,999.7 L1196.2,993.1 L1196.7,986.4 L1197.2,979.7 L1197.7,973.1 L1198.2,966.4 L1198.7,959.8 L1199.3,953.1 L1199.7,946.4 L1200.1,939.8 L1200.5,933.1 L1200.8,926.4 L1201.2,919.8 L1201.5,913.1 L1201.9,906.5 L1202.2,899.8 L1202.6,893.1 L1202.9,886.5 L1203.4,879.8 L1204.0,873.2 L1204.7,866.5 L1205.3,859.8 L1205.9,853.2 L1206.5,846.5 L1207.1,839.8 L1207.7,833.2 L1208.7,826.5 L1209.8,819.9 L1211.1,813.2 L1211.9,811.4 L1213.6,810.3 L1215.6,810.0 L1217.1,810.3 L1218.3,811.4 L1218.8,813.2 L1221.6,819.7 L1223.0,826.1 L1223.8,832.6 L1224.5,839.1 L1225.2,845.5 L1225.9,852.0 L1226.6,858.5 L1227.2,864.9 L1227.9,871.4 L1228.6,877.9 L1228.8,884.3 L1229.1,890.8 L1229.3,897.3 L1229.6,903.7 L1229.8,910.2 L1230.1,916.7 L1230.4,923.1 L1230.8,929.6 L1231.2,936.1 L1231.7,942.5 L1232.2,949.0 L1232.5,955.5 L1232.8,961.9 L1233.3,968.4 L1233.8,974.9 L1234.3,981.3 L1234.8,987.8 L1235.5,994.3 L1236.3,1000.7 L1237.0,1007.2 L1237.8,1013.7 L1238.7,1020.1 L1239.5,1026.6 L1240.3,1033.1 L1241.1,1039.5 L1241.9,1046.0 L1242.8,1052.5 L1243.6,1058.9 L1244.4,1065.4 L1244.9,1065.5 L1245.5,1063.8 L1248.6,1048.4 L1251.9,1014.8 L1254.5,976.2 L1257.1,937.5 L1259.6,893.7 L1262.2,867.9 L1264.0,859.5 L1265.4,857.0 L1266.9,856.3 L1268.6,856.9 L1270.0,858.5 L1271.2,860.2 L1275.9,873.1 L1277.7,898.9 L1281.5,937.5 L1285.4,976.2 L1289.8,1014.8 L1293.9,1043.2 L1296.5,1062.5 L1297.5,1063.5 L1298.3,1061.2 L1300.9,1053.5 L1304.7,1032.9 L1308.6,1002.0 L1312.0,963.3 L1313.8,929.8 L1317.6,919.5 L1318.9,904.0 L1320.5,899.0 L1322.0,897.2 L1323.3,896.8 L1325.0,897.6 L1326.4,899.0 L1327.4,901.4 L1330.5,916.9 L1333.1,937.5 L1335.7,963.3 L1339.5,994.2 L1343.4,1022.6 L1347.3,1048.4 L1351.1,1060.5 L1353.7,1057.5 L1357.9,1041.5 L1361.3,1019.5 L1364.2,994.7 L1366.9,973.5 L1369.1,956.0 L1371.8,940.7 L1373.5,938.0 L1376.4,937.0 L1379.5,937.0 L1381.6,939.0 L1385.0,951.5 L1388.4,970.0 L1391.9,994.5 L1395.6,1020.0 L1399.4,1043.0 L1403.1,1055.3 L1406.5,1066.0 L1407.6,1065.5 L1410.0,1061.8 L1412.7,1052.7 L1415.5,1040.0 L1418.2,1025.5 L1420.9,1007.3 L1422.7,992.7 L1425.5,983.6 L1429.1,978.2 L1431.0,974.0 L1433.1,972.4 L1434.8,972.8 L1436.0,974.5 L1439.1,989.1 L1441.8,1003.6 L1444.5,1018.2 L1447.3,1034.5 L1450.9,1047.3 L1454.5,1060.0 L1458.2,1071.5 L1463.6,1069.0 L1467.3,1061.8 L1470.9,1049.1 L1474.5,1038.2 L1478.2,1027.3 L1481.8,1023.6 L1485.5,1022.7 L1488.2,1016.4 L1490.0,1015.5 L1491.8,1016.4 L1492.7,1025.5 L1496.4,1036.4 L1500.0,1047.3 L1503.6,1060.0 L1507.3,1070.9 L1510.9,1078.2 L1516.4,1083.6 L1520.0,1076.4 L1523.6,1070.9 L1527.0,1066.0 L1531.0,1063.0 L1535.0,1060.5 L1539.0,1058.5 L1545.0,1058.5 L1548.0,1061.0 L1551.0,1066.0 L1554.0,1072.0 L1557.0,1078.0 L1560.0,1082.0 L1566.0,1088.0 L1572.0,1093.0 L1576.0,1089.0 L1580.0,1085.0 L1584.0,1082.0 L1588.0,1080.0 L1593.0,1080.0 L1595.0,1077.0 L1597.0,1075.5 L1599.0,1077.0 L1601.0,1081.0 L1604.0,1083.0 L1608.0,1087.0 L1612.0,1091.0 L1616.0,1095.0 L1621.0,1098.0 L1626.0,1095.5 L1631.0,1094.0 L1637.0,1093.0 L1644.0,1093.0 L1651.0,1092.0 L1655.0,1093.0 L1661.0,1095.0 L1667.0,1098.0 L1673.0,1101.0 L1679.0,1103.0 L1684.0,1100.5 L1689.0,1099.0 L1698.0,1099.0 L1707.0,1099.0 L1714.0,1101.5 L1721.0,1103.5 L1731.0,1103.5 L1739.0,1102.0 L1747.0,1101.5 L1755.0,1102.5 L1763.0,1103.0 L1772.0,1103.0 L1781.0,1103.5 L1786.0,1105.0 L1790.0,1108.0 L1790.0,1107.6Z" fill="#ff0000"/>
<rect x="274.5" y="1106.9" width="1388" height="1.1" fill="#c21a5e"/>
<path d="M267,1072 L268.5,1060 L270,1049 L274,1047 L274,1076 L269,1074 Z" fill="#ff0000"/>
<path d="M1781,1104 L1786,1104.6 L1789.4,1106.8 L1791,1110.5 L1789.6,1113.6 L1787.6,1112 L1786.4,1108.4 L1781,1107.6 Z" fill="#ff0000"/>
<g fill="#000">
<rect x="714.4" y="72.3" width="7.6" height="43.4"/>
<rect x="771.1" y="72.3" width="7.6" height="41.9"/>
<rect x="636.9" y="91.2" width="63" height="3.7"/>
<path d="M704.3,93 L687.2,80.3 L685.7,81.7 L697.9,93 L685.7,104.3 L687.2,105.7 Z"/>
<rect x="792.8" y="91.2" width="62" height="3.7"/>
<path d="M788.5,93 L805.6,80.3 L807.1,81.7 L794.9,93 L807.1,104.3 L805.6,105.7 Z"/>
</g>
<g font-family="'Liberation Sans', sans-serif" font-weight="700" fill="#000">
<text x="741.2" y="64.1" font-size="71.5" text-anchor="middle">44</text>
<text x="223.8" y="201.6" font-size="71.5" text-anchor="end">60</text>
<text x="223.8" y="355.7" font-size="71.5" text-anchor="end">50</text>
<text x="223.8" y="513.4" font-size="71.5" text-anchor="end">40</text>
<text x="223.8" y="668.8" font-size="71.5" text-anchor="end">30</text>
<text x="223.8" y="822.0" font-size="71.5" text-anchor="end">20</text>
<text x="223.8" y="983.7" font-size="71.5" text-anchor="end">10</text>
<text x="219.4" y="1140.7" font-size="71.5" text-anchor="end">0</text>
<text x="358.2" y="1220.4" font-size="71.5" text-anchor="middle">2500</text>
<text x="966.2" y="1220.4" font-size="71.5" text-anchor="middle">3000</text>
<text x="1575.4" y="1220.4" font-size="71.5" text-anchor="middle">3500</text>
<text transform="translate(954,1300) scale(0.99,1)" font-size="87.2" text-anchor="middle">m/z</text>
<text transform="translate(84.3,637.6) rotate(-90) scale(0.977,1)" font-size="87.3" text-anchor="middle">Intensity (%)</text>
</g>
</svg>
</body>
</html>
